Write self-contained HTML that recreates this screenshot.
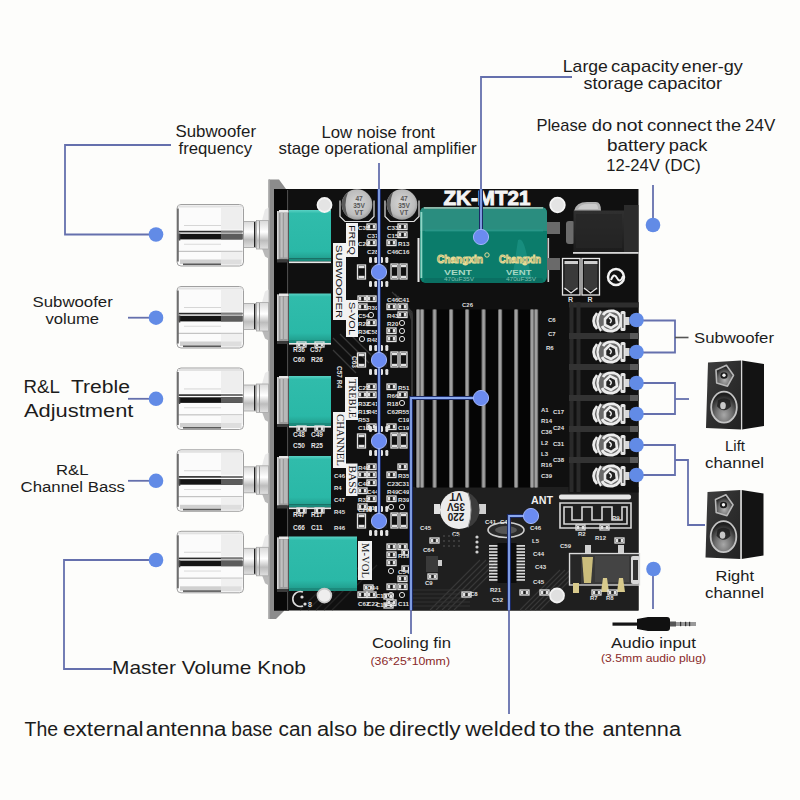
<!DOCTYPE html>
<html><head><meta charset="utf-8"><title>ZK-MT21</title>
<style>html,body{margin:0;padding:0;background:#fdfdfb;width:800px;height:800px;overflow:hidden}svg{display:block}</style>
</head><body><svg width="800" height="800" viewBox="0 0 800 800"><defs>
<linearGradient id="knobTop" x1="0" y1="0" x2="0" y2="1">
 <stop offset="0" stop-color="#e8e8e8"/><stop offset="0.25" stop-color="#ffffff"/><stop offset="1" stop-color="#f4f4f4"/>
</linearGradient>
<linearGradient id="knobBot" x1="0" y1="0" x2="0" y2="1">
 <stop offset="0" stop-color="#ffffff"/><stop offset="0.5" stop-color="#f2f2f2"/><stop offset="1" stop-color="#e6e6e6"/>
</linearGradient>
<linearGradient id="nut" x1="0" y1="0" x2="0" y2="1">
 <stop offset="0" stop-color="#d8d8d8"/><stop offset="0.4" stop-color="#ffffff"/><stop offset="0.7" stop-color="#bdbdbd"/><stop offset="1" stop-color="#e0e0e0"/>
</linearGradient>
<linearGradient id="teal" x1="0" y1="0" x2="0" y2="1">
 <stop offset="0" stop-color="#5ad2c4"/><stop offset="0.07" stop-color="#30bcab"/><stop offset="0.85" stop-color="#2ab8a7"/><stop offset="1" stop-color="#22a090"/>
</linearGradient>
<linearGradient id="gcap" x1="0" y1="0" x2="0" y2="1">
 <stop offset="0" stop-color="#2a9a86"/><stop offset="0.35" stop-color="#1f8a76"/><stop offset="0.6" stop-color="#1d8470"/><stop offset="1" stop-color="#218c78"/>
</linearGradient>
<radialGradient id="scap" cx="0.5" cy="0.45" r="0.6">
 <stop offset="0" stop-color="#d6d6d6"/><stop offset="0.7" stop-color="#bcbcbc"/><stop offset="1" stop-color="#8a8a8a"/>
</radialGradient>
<linearGradient id="spkFront" x1="0" y1="0" x2="1" y2="1">
 <stop offset="0" stop-color="#3e3e3e"/><stop offset="0.5" stop-color="#2e2e2e"/><stop offset="1" stop-color="#222222"/>
</linearGradient>
<radialGradient id="cone" cx="0.5" cy="0.5" r="0.5">
 <stop offset="0" stop-color="#9a9a9a"/><stop offset="0.4" stop-color="#5a5a5a"/><stop offset="0.85" stop-color="#3a3a3a"/><stop offset="1" stop-color="#bbbbbb"/>
</radialGradient>
<radialGradient id="twc" cx="0.5" cy="0.7" r="0.6">
 <stop offset="0" stop-color="#b0b0b0"/><stop offset="0.6" stop-color="#6a6a6a"/><stop offset="1" stop-color="#222"/>
</radialGradient>
<radialGradient id="wfc" cx="0.5" cy="0.75" r="0.65">
 <stop offset="0" stop-color="#a8a8a8"/><stop offset="0.5" stop-color="#6e6e6e"/><stop offset="1" stop-color="#1e1e1e"/>
</radialGradient>
<linearGradient id="jack" x1="0" y1="0" x2="0" y2="1">
 <stop offset="0" stop-color="#303030"/><stop offset="1" stop-color="#1c1c1c"/>
</linearGradient>
</defs>
<rect x="0" y="0" width="800" height="800" fill="#fdfdfb"/>
<polygon points="268.5,179.5 279,179.5 286,189 284,611 276,619 268.5,619" fill="#8c8c8c"/>
<rect x="268.5" y="179.5" width="1.5" height="439.5" fill="#a4a4a4"/>
<rect x="274" y="189" width="364.5" height="421.5" fill="#101010"/>
<rect x="411" y="487" width="227.5" height="123.5" fill="#1f1f1f"/>
<line x1="333" y1="338" x2="362" y2="367" stroke="#383838" stroke-width="1.3"/>
<line x1="340" y1="334" x2="369" y2="363" stroke="#383838" stroke-width="1.3"/>
<line x1="333" y1="350" x2="356" y2="373" stroke="#383838" stroke-width="1.3"/>
<line x1="346" y1="330" x2="372" y2="356" stroke="#383838" stroke-width="1.3"/>
<path d="M392,292 L412,312 L412,480" fill="none" stroke="#363636" stroke-width="1.2"/>
<path d="M395,294 L412,314 L412,480" fill="none" stroke="#363636" stroke-width="1.2"/>
<path d="M398,296 L412,316 L412,480" fill="none" stroke="#363636" stroke-width="1.2"/>
<path d="M401,298 L412,318 L412,480" fill="none" stroke="#363636" stroke-width="1.2"/>
<path d="M404,300 L412,320 L412,480" fill="none" stroke="#363636" stroke-width="1.2"/>
<path d="M407,302 L412,322 L412,480" fill="none" stroke="#363636" stroke-width="1.2"/>
<path d="M300,610 L345,565" fill="none" stroke="#222" stroke-width="1.2"/>
<path d="M430,610 L480,560" fill="none" stroke="#383838" stroke-width="1.1"/>
<path d="M411,590 L470,590" fill="none" stroke="#333" stroke-width="1.1"/>
<path d="M520,610 L560,570" fill="none" stroke="#383838" stroke-width="1.1"/>
<path d="M308,610 L353,565" fill="none" stroke="#222" stroke-width="1.2"/>
<path d="M436,610 L486,560" fill="none" stroke="#383838" stroke-width="1.1"/>
<path d="M411,594 L470,594" fill="none" stroke="#333" stroke-width="1.1"/>
<path d="M525,610 L565,570" fill="none" stroke="#383838" stroke-width="1.1"/>
<path d="M316,610 L361,565" fill="none" stroke="#222" stroke-width="1.2"/>
<path d="M442,610 L492,560" fill="none" stroke="#383838" stroke-width="1.1"/>
<path d="M411,598 L470,598" fill="none" stroke="#333" stroke-width="1.1"/>
<path d="M530,610 L570,570" fill="none" stroke="#383838" stroke-width="1.1"/>
<path d="M324,610 L369,565" fill="none" stroke="#222" stroke-width="1.2"/>
<path d="M448,610 L498,560" fill="none" stroke="#383838" stroke-width="1.1"/>
<path d="M411,602 L470,602" fill="none" stroke="#333" stroke-width="1.1"/>
<path d="M535,610 L575,570" fill="none" stroke="#383838" stroke-width="1.1"/>
<path d="M332,610 L377,565" fill="none" stroke="#222" stroke-width="1.2"/>
<path d="M454,610 L504,560" fill="none" stroke="#383838" stroke-width="1.1"/>
<path d="M411,606 L470,606" fill="none" stroke="#333" stroke-width="1.1"/>
<path d="M540,610 L580,570" fill="none" stroke="#383838" stroke-width="1.1"/>
<rect x="274" y="189" width="15" height="421.5" fill="#080808"/>
<rect x="287" y="190" width="1.2" height="420" fill="#4a4a4a"/>
<rect x="277" y="211" width="11.5" height="48.5" fill="#9a9a9a"/>
<rect x="277" y="211" width="1.6" height="48.5" fill="#d4d4d4"/>
<rect x="280.5" y="213" width="2.2" height="44.5" fill="#c0c0c0"/>
<rect x="284" y="213" width="3.5" height="44.5" fill="#b8b8b8"/>
<rect x="279" y="210" width="9.5" height="2.5" fill="#e8e8e8"/>
<rect x="277" y="259.5" width="11.5" height="3" fill="#3a3a3a"/>
<rect x="289" y="210" width="42" height="48.5" fill="url(#teal)"/>
<rect x="289" y="258.5" width="42" height="3" fill="#1c8a7c"/>
<rect x="289" y="261.5" width="42" height="1.6" fill="#e8e8e8"/>
<rect x="277" y="294.5" width="11.5" height="46.5" fill="#9a9a9a"/>
<rect x="277" y="294.5" width="1.6" height="46.5" fill="#d4d4d4"/>
<rect x="280.5" y="296.5" width="2.2" height="42.5" fill="#c0c0c0"/>
<rect x="284" y="296.5" width="3.5" height="42.5" fill="#b8b8b8"/>
<rect x="279" y="293.5" width="9.5" height="2.5" fill="#e8e8e8"/>
<rect x="277" y="341.0" width="11.5" height="3" fill="#3a3a3a"/>
<rect x="289" y="293.5" width="42" height="46.5" fill="url(#teal)"/>
<rect x="289" y="340" width="42" height="3" fill="#1c8a7c"/>
<rect x="289" y="343" width="42" height="1.6" fill="#e8e8e8"/>
<rect x="277" y="377" width="11.5" height="47" fill="#9a9a9a"/>
<rect x="277" y="377" width="1.6" height="47" fill="#d4d4d4"/>
<rect x="280.5" y="379" width="2.2" height="43" fill="#c0c0c0"/>
<rect x="284" y="379" width="3.5" height="43" fill="#b8b8b8"/>
<rect x="279" y="376" width="9.5" height="2.5" fill="#e8e8e8"/>
<rect x="277" y="424" width="11.5" height="3" fill="#3a3a3a"/>
<rect x="289" y="376" width="42" height="47" fill="url(#teal)"/>
<rect x="289" y="423" width="42" height="3" fill="#1c8a7c"/>
<rect x="289" y="426" width="42" height="1.6" fill="#e8e8e8"/>
<rect x="277" y="457" width="11.5" height="48.5" fill="#9a9a9a"/>
<rect x="277" y="457" width="1.6" height="48.5" fill="#d4d4d4"/>
<rect x="280.5" y="459" width="2.2" height="44.5" fill="#c0c0c0"/>
<rect x="284" y="459" width="3.5" height="44.5" fill="#b8b8b8"/>
<rect x="279" y="456" width="9.5" height="2.5" fill="#e8e8e8"/>
<rect x="277" y="505.5" width="11.5" height="3" fill="#3a3a3a"/>
<rect x="289" y="456" width="42" height="48.5" fill="url(#teal)"/>
<rect x="289" y="504.5" width="42" height="3" fill="#1c8a7c"/>
<rect x="289" y="507.5" width="42" height="1.6" fill="#e8e8e8"/>
<rect x="277" y="537.5" width="11.5" height="51.5" fill="#9a9a9a"/>
<rect x="277" y="537.5" width="1.6" height="51.5" fill="#d4d4d4"/>
<rect x="280.5" y="539.5" width="2.2" height="47.5" fill="#c0c0c0"/>
<rect x="284" y="539.5" width="3.5" height="47.5" fill="#b8b8b8"/>
<rect x="279" y="536.5" width="9.5" height="2.5" fill="#e8e8e8"/>
<rect x="277" y="589.0" width="11.5" height="3" fill="#3a3a3a"/>
<rect x="289" y="536.5" width="68" height="51.5" fill="url(#teal)"/>
<rect x="289" y="588" width="68" height="3" fill="#1c8a7c"/>
<polygon points="262,220.5 265,209.5 268.5,207.5 268.5,220.5" fill="#e9e9e9"/>
<polygon points="262,248.5 265,256.5 268.5,258.5 268.5,248.5" fill="#b8b8b8"/>
<rect x="243.5" y="221.5" width="12.5" height="26" fill="url(#nut)"/>
<rect x="243.5" y="221.5" width="12.5" height="26" fill="none" stroke="#a2a2a2" stroke-width="0.8"/>
<rect x="254" y="222.0" width="1.3" height="25" fill="#222"/>
<rect x="256.5" y="220.5" width="12" height="28.5" fill="url(#nut)"/>
<rect x="256.5" y="220.5" width="12" height="28.5" fill="none" stroke="#a6a6a6" stroke-width="0.8"/>
<rect x="259" y="221.0" width="1" height="27.5" fill="#999"/>
<rect x="177" y="204.5" width="66.5" height="61.5" rx="4" fill="#fbfbfb" stroke="#a0a0a0" stroke-width="1"/>
<rect x="178" y="205.5" width="64.5" height="2" fill="#e2e2e2"/>
<rect x="221" y="207.5" width="21.5" height="22" fill="#eeeeee"/>
<rect x="184" y="225.0" width="37" height="0.9" fill="#d2d2d2"/>
<rect x="178.5" y="230.8" width="64.0" height="1.6" fill="#2a2a2a"/>
<rect x="221" y="230.8" width="21.5" height="1.6" fill="#7a7a7a"/>
<rect x="178.5" y="233.8" width="64.0" height="5.6" fill="#141414"/>
<rect x="221" y="233.8" width="21.5" height="5.6" fill="#5c5c5c"/>
<rect x="184" y="243.8" width="37" height="0.9" fill="#d8d8d8"/>
<rect x="178" y="250.8" width="64.5" height="1.1" fill="#bdbdbd"/>
<rect x="221" y="251.9" width="21.5" height="8.6" fill="#f0f0f0"/>
<rect x="180" y="259.5" width="41" height="4.5" fill="#d0d0d0"/>
<rect x="221" y="259.5" width="20.5" height="5" fill="#dedede"/>
<rect x="183" y="263.5" width="38" height="1.6" fill="#5a5a5a"/>
<rect x="177" y="208.5" width="1.8" height="53" fill="#6e6e6e"/>
<rect x="178.8" y="233.5" width="1.5" height="7" fill="#444"/>
<polygon points="262,302.5 265,291.5 268.5,289.5 268.5,302.5" fill="#e9e9e9"/>
<polygon points="262,330.5 265,338.5 268.5,340.5 268.5,330.5" fill="#b8b8b8"/>
<rect x="243.5" y="303.5" width="12.5" height="26" fill="url(#nut)"/>
<rect x="243.5" y="303.5" width="12.5" height="26" fill="none" stroke="#a2a2a2" stroke-width="0.8"/>
<rect x="254" y="304.0" width="1.3" height="25" fill="#222"/>
<rect x="256.5" y="302.5" width="12" height="28.5" fill="url(#nut)"/>
<rect x="256.5" y="302.5" width="12" height="28.5" fill="none" stroke="#a6a6a6" stroke-width="0.8"/>
<rect x="259" y="303.0" width="1" height="27.5" fill="#999"/>
<rect x="177" y="286.5" width="66.5" height="61.5" rx="4" fill="#fbfbfb" stroke="#a0a0a0" stroke-width="1"/>
<rect x="178" y="287.5" width="64.5" height="2" fill="#e2e2e2"/>
<rect x="221" y="289.5" width="21.5" height="22" fill="#eeeeee"/>
<rect x="184" y="307.0" width="37" height="0.9" fill="#d2d2d2"/>
<rect x="178.5" y="312.8" width="64.0" height="1.6" fill="#2a2a2a"/>
<rect x="221" y="312.8" width="21.5" height="1.6" fill="#7a7a7a"/>
<rect x="178.5" y="315.8" width="64.0" height="5.6" fill="#141414"/>
<rect x="221" y="315.8" width="21.5" height="5.6" fill="#5c5c5c"/>
<rect x="184" y="325.8" width="37" height="0.9" fill="#d8d8d8"/>
<rect x="178" y="332.8" width="64.5" height="1.1" fill="#bdbdbd"/>
<rect x="221" y="333.9" width="21.5" height="8.6" fill="#f0f0f0"/>
<rect x="180" y="341.5" width="41" height="4.5" fill="#d0d0d0"/>
<rect x="221" y="341.5" width="20.5" height="5" fill="#dedede"/>
<rect x="183" y="345.5" width="38" height="1.6" fill="#5a5a5a"/>
<rect x="177" y="290.5" width="1.8" height="53" fill="#6e6e6e"/>
<rect x="178.8" y="315.5" width="1.5" height="7" fill="#444"/>
<polygon points="262,384 265,373 268.5,371 268.5,384" fill="#e9e9e9"/>
<polygon points="262,412 265,420 268.5,422 268.5,412" fill="#b8b8b8"/>
<rect x="243.5" y="385" width="12.5" height="26" fill="url(#nut)"/>
<rect x="243.5" y="385" width="12.5" height="26" fill="none" stroke="#a2a2a2" stroke-width="0.8"/>
<rect x="254" y="385.5" width="1.3" height="25" fill="#222"/>
<rect x="256.5" y="384" width="12" height="28.5" fill="url(#nut)"/>
<rect x="256.5" y="384" width="12" height="28.5" fill="none" stroke="#a6a6a6" stroke-width="0.8"/>
<rect x="259" y="384.5" width="1" height="27.5" fill="#999"/>
<rect x="177" y="368" width="66.5" height="61.5" rx="4" fill="#fbfbfb" stroke="#a0a0a0" stroke-width="1"/>
<rect x="178" y="369" width="64.5" height="2" fill="#e2e2e2"/>
<rect x="221" y="371" width="21.5" height="22" fill="#eeeeee"/>
<rect x="184" y="388.5" width="37" height="0.9" fill="#d2d2d2"/>
<rect x="178.5" y="394.3" width="64.0" height="1.6" fill="#2a2a2a"/>
<rect x="221" y="394.3" width="21.5" height="1.6" fill="#7a7a7a"/>
<rect x="178.5" y="397.3" width="64.0" height="5.6" fill="#141414"/>
<rect x="221" y="397.3" width="21.5" height="5.6" fill="#5c5c5c"/>
<rect x="184" y="407.3" width="37" height="0.9" fill="#d8d8d8"/>
<rect x="178" y="414.3" width="64.5" height="1.1" fill="#bdbdbd"/>
<rect x="221" y="415.4" width="21.5" height="8.6" fill="#f0f0f0"/>
<rect x="180" y="423" width="41" height="4.5" fill="#d0d0d0"/>
<rect x="221" y="423" width="20.5" height="5" fill="#dedede"/>
<rect x="183" y="427" width="38" height="1.6" fill="#5a5a5a"/>
<rect x="177" y="372" width="1.8" height="53" fill="#6e6e6e"/>
<rect x="178.8" y="397" width="1.5" height="7" fill="#444"/>
<polygon points="262,465.8 265,454.8 268.5,452.8 268.5,465.8" fill="#e9e9e9"/>
<polygon points="262,493.8 265,501.8 268.5,503.8 268.5,493.8" fill="#b8b8b8"/>
<rect x="243.5" y="466.8" width="12.5" height="26" fill="url(#nut)"/>
<rect x="243.5" y="466.8" width="12.5" height="26" fill="none" stroke="#a2a2a2" stroke-width="0.8"/>
<rect x="254" y="467.3" width="1.3" height="25" fill="#222"/>
<rect x="256.5" y="465.8" width="12" height="28.5" fill="url(#nut)"/>
<rect x="256.5" y="465.8" width="12" height="28.5" fill="none" stroke="#a6a6a6" stroke-width="0.8"/>
<rect x="259" y="466.3" width="1" height="27.5" fill="#999"/>
<rect x="177" y="449.8" width="66.5" height="61.5" rx="4" fill="#fbfbfb" stroke="#a0a0a0" stroke-width="1"/>
<rect x="178" y="450.8" width="64.5" height="2" fill="#e2e2e2"/>
<rect x="221" y="452.8" width="21.5" height="22" fill="#eeeeee"/>
<rect x="184" y="470.3" width="37" height="0.9" fill="#d2d2d2"/>
<rect x="178.5" y="476.1" width="64.0" height="1.6" fill="#2a2a2a"/>
<rect x="221" y="476.1" width="21.5" height="1.6" fill="#7a7a7a"/>
<rect x="178.5" y="479.1" width="64.0" height="5.6" fill="#141414"/>
<rect x="221" y="479.1" width="21.5" height="5.6" fill="#5c5c5c"/>
<rect x="184" y="489.1" width="37" height="0.9" fill="#d8d8d8"/>
<rect x="178" y="496.1" width="64.5" height="1.1" fill="#bdbdbd"/>
<rect x="221" y="497.2" width="21.5" height="8.6" fill="#f0f0f0"/>
<rect x="180" y="504.8" width="41" height="4.5" fill="#d0d0d0"/>
<rect x="221" y="504.8" width="20.5" height="5" fill="#dedede"/>
<rect x="183" y="508.8" width="38" height="1.6" fill="#5a5a5a"/>
<rect x="177" y="453.8" width="1.8" height="53" fill="#6e6e6e"/>
<rect x="178.8" y="478.8" width="1.5" height="7" fill="#444"/>
<polygon points="262,547.3 265,536.3 268.5,534.3 268.5,547.3" fill="#e9e9e9"/>
<polygon points="262,575.3 265,583.3 268.5,585.3 268.5,575.3" fill="#b8b8b8"/>
<rect x="243.5" y="548.3" width="12.5" height="26" fill="url(#nut)"/>
<rect x="243.5" y="548.3" width="12.5" height="26" fill="none" stroke="#a2a2a2" stroke-width="0.8"/>
<rect x="254" y="548.8" width="1.3" height="25" fill="#222"/>
<rect x="256.5" y="547.3" width="12" height="28.5" fill="url(#nut)"/>
<rect x="256.5" y="547.3" width="12" height="28.5" fill="none" stroke="#a6a6a6" stroke-width="0.8"/>
<rect x="259" y="547.8" width="1" height="27.5" fill="#999"/>
<rect x="177" y="531.3" width="66.5" height="61.5" rx="4" fill="#fbfbfb" stroke="#a0a0a0" stroke-width="1"/>
<rect x="178" y="532.3" width="64.5" height="2" fill="#e2e2e2"/>
<rect x="221" y="534.3" width="21.5" height="22" fill="#eeeeee"/>
<rect x="184" y="551.8" width="37" height="0.9" fill="#d2d2d2"/>
<rect x="178.5" y="557.5999999999999" width="64.0" height="1.6" fill="#2a2a2a"/>
<rect x="221" y="557.5999999999999" width="21.5" height="1.6" fill="#7a7a7a"/>
<rect x="178.5" y="560.5999999999999" width="64.0" height="5.6" fill="#141414"/>
<rect x="221" y="560.5999999999999" width="21.5" height="5.6" fill="#5c5c5c"/>
<rect x="184" y="570.5999999999999" width="37" height="0.9" fill="#d8d8d8"/>
<rect x="178" y="577.5999999999999" width="64.5" height="1.1" fill="#bdbdbd"/>
<rect x="221" y="578.6999999999999" width="21.5" height="8.6" fill="#f0f0f0"/>
<rect x="180" y="586.3" width="41" height="4.5" fill="#d0d0d0"/>
<rect x="221" y="586.3" width="20.5" height="5" fill="#dedede"/>
<rect x="183" y="590.3" width="38" height="1.6" fill="#5a5a5a"/>
<rect x="177" y="535.3" width="1.8" height="53" fill="#6e6e6e"/>
<rect x="178.8" y="560.3" width="1.5" height="7" fill="#444"/>
<circle cx="324.5" cy="205" r="7" fill="#e4e4e4" stroke="#f4f4f4" stroke-width="1.8"/>
<path d="M340,200.5 L340,216.5 L345,221.5 L369,221.5 L374,216.5 L374,200.5" fill="none" stroke="#e0e0e0" stroke-width="1.2"/>
<circle cx="357" cy="204.5" r="15.3" fill="url(#scap)"/>
<path d="M348,192.2 A15.3,15.3 0 0 0 348,216.8 Q343,204.5 348,192.2 Z" fill="#5a5a5a"/>
<text x="359" y="200.5" font-family="Liberation Sans" font-size="6.5" font-weight="bold" fill="#555" text-anchor="middle">47</text>
<text x="359" y="207.5" font-family="Liberation Sans" font-size="6.5" font-weight="bold" fill="#555" text-anchor="middle">35V</text>
<text x="359" y="214.5" font-family="Liberation Sans" font-size="6.5" font-weight="bold" fill="#555" text-anchor="middle">VT</text>
<path d="M385,200.5 L385,216.5 L390,221.5 L414,221.5 L419,216.5 L419,200.5" fill="none" stroke="#e0e0e0" stroke-width="1.2"/>
<circle cx="402" cy="204.5" r="15.3" fill="url(#scap)"/>
<path d="M393,192.2 A15.3,15.3 0 0 0 393,216.8 Q388,204.5 393,192.2 Z" fill="#5a5a5a"/>
<text x="404" y="200.5" font-family="Liberation Sans" font-size="6.5" font-weight="bold" fill="#555" text-anchor="middle">47</text>
<text x="404" y="207.5" font-family="Liberation Sans" font-size="6.5" font-weight="bold" fill="#555" text-anchor="middle">35V</text>
<text x="404" y="214.5" font-family="Liberation Sans" font-size="6.5" font-weight="bold" fill="#555" text-anchor="middle">VT</text>
<text x="443.5" y="205" font-family="Liberation Sans" font-size="19.5" font-weight="bold" fill="#f4f4f4" text-anchor="start" textLength="87" lengthAdjust="spacingAndGlyphs" stroke="#f4f4f4" stroke-width="0.9">ZK-MT21</text>
<rect x="417.5" y="238" width="2" height="44" fill="#e8e8e8"/>
<rect x="547.5" y="238" width="1.6" height="44" fill="#cfcfcf"/>
<rect x="420" y="207" width="127" height="76" rx="6" fill="#0b7c6b"/>
<path d="M420,231 L420,213 Q420,207 426,207 L541,207 Q547,207 547,213 L547,231 Z" fill="#2a8d7f"/>
<rect x="424" y="207" width="119" height="1.8" fill="#8fb9ab"/>
<rect x="425" y="229.5" width="118" height="2" fill="#2a9a8c" opacity="0.7"/>
<rect x="420.5" y="212" width="1.8" height="66" fill="#8fd6c6"/>
<path d="M518,240 Q524,236 528,262 L532,280 L512,280 Z" fill="#1f9a8a" opacity="0.6"/>
<rect x="424" y="278" width="119" height="5" rx="2" fill="#0a6f62"/>
<text x="437" y="263" font-family="Liberation Sans" font-size="11.5" font-weight="bold" fill="#5d5a1a" text-anchor="start" textLength="46" lengthAdjust="spacingAndGlyphs" stroke="#e6dc98" stroke-width="1.1">Changxin</text>
<text x="499" y="263" font-family="Liberation Sans" font-size="11.5" font-weight="bold" fill="#5d5a1a" text-anchor="start" textLength="42" lengthAdjust="spacingAndGlyphs" stroke="#e6dc98" stroke-width="1.1">Changxin</text>
<circle cx="487" cy="255" r="2.2" fill="none" stroke="#e6dc98" stroke-width="1"/>
<text x="444" y="274.5" font-family="Liberation Sans" font-size="8" font-weight="bold" fill="#a8d8c4" text-anchor="start" textLength="28" lengthAdjust="spacingAndGlyphs" >VENT</text>
<text x="506" y="274.5" font-family="Liberation Sans" font-size="8" font-weight="bold" fill="#a8d8c4" text-anchor="start" textLength="25.5" lengthAdjust="spacingAndGlyphs" >VENT</text>
<text x="444" y="280.5" font-family="Liberation Sans" font-size="5" font-weight="normal" fill="#7fbfb0" text-anchor="start" textLength="30" lengthAdjust="spacingAndGlyphs" >470uF35V</text>
<text x="506" y="280.5" font-family="Liberation Sans" font-size="5" font-weight="normal" fill="#7fbfb0" text-anchor="start" textLength="30" lengthAdjust="spacingAndGlyphs" >470uF35V</text>
<circle cx="557.5" cy="205" r="7.3" fill="#e4e4e4" stroke="#f4f4f4" stroke-width="1.8"/>
<rect x="566" y="221" width="9" height="23" rx="3" fill="#6c6c6c"/>
<path d="M574,211 Q576,202 587,202 L596,202 Q601,202 601,211 Z" fill="#b0b0b0"/>
<path d="M578,209 Q580,204 588,204 L595,204 Q598,204 598,209 Z" fill="#cacaca"/>
<rect x="573.5" y="210.5" width="51" height="41.5" fill="url(#jack)"/>
<rect x="624" y="205" width="14.5" height="47" fill="#2c2c2c"/>
<rect x="573" y="252" width="65.5" height="1.8" fill="#d6d6d6"/>
<rect x="576" y="214" width="46" height="34" fill="#262626" opacity="0.7"/>
<rect x="547" y="222" width="13" height="12" fill="#6a6a6a"/>
<rect x="547" y="258" width="13" height="12" fill="#6a6a6a"/>
<rect x="562.5" y="258.5" width="17.5" height="36.5" fill="none" stroke="#e8e8e8" stroke-width="1.3"/>
<rect x="564.5" y="263" width="13.5" height="27" fill="#3a3a3a"/>
<rect x="564.5" y="261" width="13.5" height="3" fill="#cfcfcf"/>
<rect x="582" y="258.5" width="17.5" height="36.5" fill="none" stroke="#e8e8e8" stroke-width="1.3"/>
<rect x="584" y="263" width="13.5" height="27" fill="#3a3a3a"/>
<rect x="584" y="261" width="13.5" height="3" fill="#cfcfcf"/>
<path d="M564.5,288 L571.0,293 L577.5,288" fill="none" stroke="#e8e8e8" stroke-width="1.2"/>
<path d="M584,288 L590.5,293 L597,288" fill="none" stroke="#e8e8e8" stroke-width="1.2"/>
<circle cx="616" cy="277" r="8" fill="none" stroke="#f2f2f2" stroke-width="2.5"/>
<path d="M611,280 q3,-8 6,-2 q3,6 6,-2" fill="none" stroke="#f2f2f2" stroke-width="2"/>
<rect x="415" y="309.5" width="122.5" height="178" fill="#050505"/>
<rect x="416" y="309.5" width="4.2" height="178" fill="#6c6c6c"/>
<rect x="417" y="309.5" width="2.2" height="178" fill="#a0a0a0"/>
<rect x="420" y="309.5" width="4.2" height="178" fill="#6c6c6c"/>
<rect x="421" y="309.5" width="2.2" height="178" fill="#a0a0a0"/>
<rect x="432.5" y="309.5" width="4.2" height="178" fill="#6c6c6c"/>
<rect x="433.5" y="309.5" width="2.2" height="178" fill="#a0a0a0"/>
<rect x="449" y="309.5" width="4.2" height="178" fill="#6c6c6c"/>
<rect x="450" y="309.5" width="2.2" height="178" fill="#a0a0a0"/>
<rect x="465" y="309.5" width="4.2" height="178" fill="#6c6c6c"/>
<rect x="466" y="309.5" width="2.2" height="178" fill="#a0a0a0"/>
<rect x="481.5" y="309.5" width="4.2" height="178" fill="#6c6c6c"/>
<rect x="482.5" y="309.5" width="2.2" height="178" fill="#a0a0a0"/>
<rect x="498" y="309.5" width="4.2" height="178" fill="#6c6c6c"/>
<rect x="499" y="309.5" width="2.2" height="178" fill="#a0a0a0"/>
<rect x="514" y="309.5" width="4.2" height="178" fill="#6c6c6c"/>
<rect x="515" y="309.5" width="2.2" height="178" fill="#a0a0a0"/>
<rect x="530" y="309.5" width="4.2" height="178" fill="#6c6c6c"/>
<rect x="531" y="309.5" width="2.2" height="178" fill="#a0a0a0"/>
<rect x="534" y="309.5" width="4.2" height="178" fill="#6c6c6c"/>
<rect x="535" y="309.5" width="2.2" height="178" fill="#a0a0a0"/>
<text x="462" y="307" font-family="Liberation Sans" font-size="6" font-weight="bold" fill="#dddddd" text-anchor="start" >C26</text>
<rect x="568.5" y="302" width="70" height="190.5" fill="#111"/>
<rect x="569" y="302.5" width="69.5" height="5" fill="#2e2e2e"/>
<rect x="569.5" y="302" width="4" height="190" fill="#2a2a2a"/>
<rect x="576.5" y="302" width="4" height="190" fill="#2a2a2a"/>
<rect x="569" y="333" width="69.5" height="6" fill="#333"/>
<rect x="630" y="333" width="8" height="6" fill="#5a5a5a"/>
<ellipse cx="608" cy="321" rx="15" ry="10.5" fill="#6a6a6a"/>
<path d="M597,313 Q590,321 597,329" fill="none" stroke="#ececec" stroke-width="2.6"/>
<path d="M601,311 Q594,321 601,331" fill="none" stroke="#ececec" stroke-width="2.2"/>
<path d="M603,315 Q606,310 614,311 Q621,313 621,320 Q621,329 613,331 Q605,332 602,326" fill="none" stroke="#ececec" stroke-width="2.8"/>
<path d="M605,319 L610,314 L616,317 L617,324 L611,328 L605,325 Z" fill="#222" stroke="#ececec" stroke-width="2.6"/>
<path d="M609,318 Q613,320 610,323" fill="none" stroke="#ececec" stroke-width="1.5"/>
<rect x="620.5" y="311" width="5" height="20" rx="1.5" fill="#e4e4e4"/>
<rect x="622.3" y="314" width="1.2" height="14" fill="#333"/>
<rect x="625" y="317" width="4.5" height="8" fill="#d8d8d8"/>
<rect x="569" y="364" width="69.5" height="6" fill="#333"/>
<rect x="630" y="364" width="8" height="6" fill="#5a5a5a"/>
<ellipse cx="608" cy="352" rx="15" ry="10.5" fill="#6a6a6a"/>
<path d="M597,344 Q590,352 597,360" fill="none" stroke="#ececec" stroke-width="2.6"/>
<path d="M601,342 Q594,352 601,362" fill="none" stroke="#ececec" stroke-width="2.2"/>
<path d="M603,346 Q606,341 614,342 Q621,344 621,351 Q621,360 613,362 Q605,363 602,357" fill="none" stroke="#ececec" stroke-width="2.8"/>
<path d="M605,350 L610,345 L616,348 L617,355 L611,359 L605,356 Z" fill="#222" stroke="#ececec" stroke-width="2.6"/>
<path d="M609,349 Q613,351 610,354" fill="none" stroke="#ececec" stroke-width="1.5"/>
<rect x="620.5" y="342" width="5" height="20" rx="1.5" fill="#e4e4e4"/>
<rect x="622.3" y="345" width="1.2" height="14" fill="#333"/>
<rect x="625" y="348" width="4.5" height="8" fill="#d8d8d8"/>
<rect x="569" y="395" width="69.5" height="6" fill="#333"/>
<rect x="630" y="395" width="8" height="6" fill="#5a5a5a"/>
<ellipse cx="608" cy="383" rx="15" ry="10.5" fill="#6a6a6a"/>
<path d="M597,375 Q590,383 597,391" fill="none" stroke="#ececec" stroke-width="2.6"/>
<path d="M601,373 Q594,383 601,393" fill="none" stroke="#ececec" stroke-width="2.2"/>
<path d="M603,377 Q606,372 614,373 Q621,375 621,382 Q621,391 613,393 Q605,394 602,388" fill="none" stroke="#ececec" stroke-width="2.8"/>
<path d="M605,381 L610,376 L616,379 L617,386 L611,390 L605,387 Z" fill="#222" stroke="#ececec" stroke-width="2.6"/>
<path d="M609,380 Q613,382 610,385" fill="none" stroke="#ececec" stroke-width="1.5"/>
<rect x="620.5" y="373" width="5" height="20" rx="1.5" fill="#e4e4e4"/>
<rect x="622.3" y="376" width="1.2" height="14" fill="#333"/>
<rect x="625" y="379" width="4.5" height="8" fill="#d8d8d8"/>
<rect x="569" y="426" width="69.5" height="6" fill="#333"/>
<rect x="630" y="426" width="8" height="6" fill="#5a5a5a"/>
<ellipse cx="608" cy="414" rx="15" ry="10.5" fill="#6a6a6a"/>
<path d="M597,406 Q590,414 597,422" fill="none" stroke="#ececec" stroke-width="2.6"/>
<path d="M601,404 Q594,414 601,424" fill="none" stroke="#ececec" stroke-width="2.2"/>
<path d="M603,408 Q606,403 614,404 Q621,406 621,413 Q621,422 613,424 Q605,425 602,419" fill="none" stroke="#ececec" stroke-width="2.8"/>
<path d="M605,412 L610,407 L616,410 L617,417 L611,421 L605,418 Z" fill="#222" stroke="#ececec" stroke-width="2.6"/>
<path d="M609,411 Q613,413 610,416" fill="none" stroke="#ececec" stroke-width="1.5"/>
<rect x="620.5" y="404" width="5" height="20" rx="1.5" fill="#e4e4e4"/>
<rect x="622.3" y="407" width="1.2" height="14" fill="#333"/>
<rect x="625" y="410" width="4.5" height="8" fill="#d8d8d8"/>
<rect x="569" y="457" width="69.5" height="6" fill="#333"/>
<rect x="630" y="457" width="8" height="6" fill="#5a5a5a"/>
<ellipse cx="608" cy="445" rx="15" ry="10.5" fill="#6a6a6a"/>
<path d="M597,437 Q590,445 597,453" fill="none" stroke="#ececec" stroke-width="2.6"/>
<path d="M601,435 Q594,445 601,455" fill="none" stroke="#ececec" stroke-width="2.2"/>
<path d="M603,439 Q606,434 614,435 Q621,437 621,444 Q621,453 613,455 Q605,456 602,450" fill="none" stroke="#ececec" stroke-width="2.8"/>
<path d="M605,443 L610,438 L616,441 L617,448 L611,452 L605,449 Z" fill="#222" stroke="#ececec" stroke-width="2.6"/>
<path d="M609,442 Q613,444 610,447" fill="none" stroke="#ececec" stroke-width="1.5"/>
<rect x="620.5" y="435" width="5" height="20" rx="1.5" fill="#e4e4e4"/>
<rect x="622.3" y="438" width="1.2" height="14" fill="#333"/>
<rect x="625" y="441" width="4.5" height="8" fill="#d8d8d8"/>
<ellipse cx="608" cy="476" rx="15" ry="10.5" fill="#6a6a6a"/>
<path d="M597,468 Q590,476 597,484" fill="none" stroke="#ececec" stroke-width="2.6"/>
<path d="M601,466 Q594,476 601,486" fill="none" stroke="#ececec" stroke-width="2.2"/>
<path d="M603,470 Q606,465 614,466 Q621,468 621,475 Q621,484 613,486 Q605,487 602,481" fill="none" stroke="#ececec" stroke-width="2.8"/>
<path d="M605,474 L610,469 L616,472 L617,479 L611,483 L605,480 Z" fill="#222" stroke="#ececec" stroke-width="2.6"/>
<path d="M609,473 Q613,475 610,478" fill="none" stroke="#ececec" stroke-width="1.5"/>
<rect x="620.5" y="466" width="5" height="20" rx="1.5" fill="#e4e4e4"/>
<rect x="622.3" y="469" width="1.2" height="14" fill="#333"/>
<rect x="625" y="472" width="4.5" height="8" fill="#d8d8d8"/>
<text x="568" y="302" font-family="Liberation Sans" font-size="7" font-weight="bold" fill="#dddddd" text-anchor="start" >R</text>
<text x="587.5" y="302" font-family="Liberation Sans" font-size="7" font-weight="bold" fill="#dddddd" text-anchor="start" >R</text>
<rect x="559" y="494.5" width="72" height="5" rx="2" fill="#e6e6e6"/>
<path d="M560,528 L560,503 L631,503 L631,528 Z" fill="none" stroke="#d6d6d6" stroke-width="1.6"/>
<path d="M564,524 L564,507 L572,507 L572,520 L582,520 L582,507 L592,507 L592,520 L602,520 L602,507 L612,507 L612,520 L622,520 L622,507 L627,507 L627,524 Z" fill="none" stroke="#d6d6d6" stroke-width="1.6"/>
<text x="531" y="504" font-family="Liberation Sans" font-size="10.5" font-weight="bold" fill="#f0f0f0" text-anchor="start" textLength="22" lengthAdjust="spacingAndGlyphs" >ANT</text>
<rect x="585" y="545" width="6" height="10" fill="#d0d0d0"/>
<rect x="618" y="545" width="6" height="10" fill="#d0d0d0"/>
<rect x="569.5" y="553.5" width="70" height="31.5" fill="#383838" stroke="#dcdcdc" stroke-width="1.3"/>
<rect x="571" y="555" width="10" height="29" fill="#262626"/>
<path d="M582,557 L593,557 L591,583 L584,583 Z" fill="#cbbd7c"/>
<rect x="595" y="556" width="34" height="26" fill="#444"/>
<rect x="631" y="556" width="9" height="28" rx="2" fill="#d8d8d8"/>
<rect x="633" y="560" width="5" height="20" fill="#333"/>
<rect x="573" y="583" width="6" height="10" fill="#d8ca8c"/>
<path d="M601,592 L603,578 L607,578 L609,592 Z" fill="#d8ca8c"/>
<path d="M617,592 L619,578 L623,578 L625,592 Z" fill="#d8ca8c"/>
<circle cx="557" cy="595.5" r="7" fill="#e0e0e0" stroke="#f2f2f2" stroke-width="1.8"/>
<rect x="434" y="504" width="6" height="10" fill="#e0e0e0"/>
<rect x="479" y="504" width="7" height="10" fill="#d0d0d0"/>
<circle cx="459" cy="510" r="19" fill="#ececec"/>
<path d="M468,492.5 A19,19 0 0 1 468,527.5 Q474,510 468,492.5 Z" fill="#3c3c3c"/>
<path d="M468,492.5 Q474,510 468,527.5" fill="none" stroke="#9a9a9a" stroke-width="1"/>
<text x="456" y="500" font-family="Liberation Sans" font-size="10" font-weight="bold" fill="#1a1a1a" text-anchor="middle" transform="rotate(180 456 496.5)">VT</text>
<text x="456" y="510" font-family="Liberation Sans" font-size="10" font-weight="bold" fill="#1a1a1a" text-anchor="middle" transform="rotate(180 456 506.5)">35V</text>
<text x="456" y="520" font-family="Liberation Sans" font-size="10" font-weight="bold" fill="#1a1a1a" text-anchor="middle" transform="rotate(180 456 516.5)">220</text>
<ellipse cx="506" cy="530" rx="18" ry="7.5" fill="#2a2a2a" stroke="#cfcfcf" stroke-width="1.6"/>
<ellipse cx="506" cy="530" rx="11" ry="4" fill="#555"/>
<rect x="489" y="545.0" width="36" height="1.7" fill="#d8d8d8"/>
<rect x="489" y="548.1" width="36" height="1.7" fill="#d8d8d8"/>
<rect x="489" y="551.2" width="36" height="1.7" fill="#d8d8d8"/>
<rect x="489" y="554.3" width="36" height="1.7" fill="#d8d8d8"/>
<rect x="489" y="557.4" width="36" height="1.7" fill="#d8d8d8"/>
<rect x="489" y="560.5" width="36" height="1.7" fill="#d8d8d8"/>
<rect x="489" y="563.6" width="36" height="1.7" fill="#d8d8d8"/>
<rect x="489" y="566.7" width="36" height="1.7" fill="#d8d8d8"/>
<rect x="489" y="569.8" width="36" height="1.7" fill="#d8d8d8"/>
<rect x="489" y="572.9" width="36" height="1.7" fill="#d8d8d8"/>
<rect x="489" y="576.0" width="36" height="1.7" fill="#d8d8d8"/>
<rect x="489" y="579.1" width="36" height="1.7" fill="#d8d8d8"/>
<rect x="497.5" y="543" width="19" height="40" fill="#0c0c0c"/>
<rect x="426" y="556" width="12" height="16" fill="#3a3a3a"/>
<rect x="438" y="560" width="4" height="6" fill="#ccc"/>
<circle cx="324.4" cy="595.6" r="7" fill="#eeeeee" stroke="#c8c8c8" stroke-width="1.6"/>
<path d="M303,592 A7.5,7.5 0 1 0 303,606" fill="none" stroke="#dddddd" stroke-width="1.6"/>
<circle cx="302" cy="597" r="1.6" fill="#ddd"/><circle cx="305" cy="604" r="1.6" fill="#ddd"/>
<text x="308" y="607" font-family="Liberation Sans" font-size="7" font-weight="bold" fill="#dddddd" text-anchor="start" >8</text>
<rect x="346" y="223" width="12" height="34" fill="#f2f2f2"/>
<text x="352.0" y="240.0" font-family="Liberation Sans" font-size="9.5" fill="#111" text-anchor="middle" dominant-baseline="central" textLength="30" lengthAdjust="spacingAndGlyphs" transform="rotate(90 352.0 240.0)">FREQ</text>
<rect x="333" y="243" width="13" height="77" fill="#f2f2f2"/>
<text x="339.5" y="281.5" font-family="Liberation Sans" font-size="9.5" fill="#111" text-anchor="middle" dominant-baseline="central" textLength="73" lengthAdjust="spacingAndGlyphs" transform="rotate(90 339.5 281.5)">SUBWOOFER</text>
<rect x="346" y="300" width="12" height="37" fill="#f2f2f2"/>
<text x="352.0" y="318.5" font-family="Liberation Sans" font-size="9.5" fill="#111" text-anchor="middle" dominant-baseline="central" textLength="33" lengthAdjust="spacingAndGlyphs" transform="rotate(90 352.0 318.5)">S-VOL</text>
<rect x="345" y="377" width="13" height="43" fill="#f2f2f2"/>
<text x="351.5" y="398.5" font-family="Liberation Serif" font-size="9.5" fill="#111" text-anchor="middle" dominant-baseline="central" textLength="39" lengthAdjust="spacingAndGlyphs" transform="rotate(90 351.5 398.5)">TREBLE</text>
<rect x="333" y="412" width="13" height="56" fill="#f2f2f2"/>
<text x="339.5" y="440.0" font-family="Liberation Serif" font-size="9.5" fill="#111" text-anchor="middle" dominant-baseline="central" textLength="52" lengthAdjust="spacingAndGlyphs" transform="rotate(90 339.5 440.0)">CHANNEL</text>
<rect x="346" y="463.5" width="11.5" height="32.5" fill="#f2f2f2"/>
<text x="351.75" y="479.75" font-family="Liberation Serif" font-size="9.5" fill="#111" text-anchor="middle" dominant-baseline="central" textLength="28.5" lengthAdjust="spacingAndGlyphs" transform="rotate(90 351.75 479.75)">BASS</text>
<rect x="358" y="541" width="14" height="39" fill="#f2f2f2"/>
<text x="365.0" y="560.5" font-family="Liberation Serif" font-size="9.5" fill="#111" text-anchor="middle" dominant-baseline="central" textLength="35" lengthAdjust="spacingAndGlyphs" transform="rotate(90 365.0 560.5)">M-VOL</text>
<rect x="371" y="265" width="16" height="14" fill="#1c1c1c"/>
<rect x="369" y="257" width="3" height="6" rx="1.2" fill="#e2e2e2"/>
<rect x="369" y="281" width="3" height="6" rx="1.2" fill="#e2e2e2"/>
<rect x="374.3" y="257" width="3" height="6" rx="1.2" fill="#e2e2e2"/>
<rect x="374.3" y="281" width="3" height="6" rx="1.2" fill="#e2e2e2"/>
<rect x="380" y="257" width="3" height="6" rx="1.2" fill="#e2e2e2"/>
<rect x="380" y="281" width="3" height="6" rx="1.2" fill="#e2e2e2"/>
<rect x="385.3" y="257" width="3" height="6" rx="1.2" fill="#e2e2e2"/>
<rect x="385.3" y="281" width="3" height="6" rx="1.2" fill="#e2e2e2"/>
<rect x="357.5" y="265" width="8" height="14" fill="none" stroke="#e2e2e2" stroke-width="1.3"/>
<rect x="358.5" y="266" width="6" height="2.2" fill="#e2e2e2"/><rect x="358.5" y="275.8" width="6" height="2.2" fill="#e2e2e2"/>
<rect x="391" y="264" width="7" height="15" fill="none" stroke="#e2e2e2" stroke-width="1.3"/>
<rect x="392" y="265" width="5" height="2.2" fill="#e2e2e2"/><rect x="392" y="275.8" width="5" height="2.2" fill="#e2e2e2"/>
<rect x="400" y="264" width="7" height="15" fill="none" stroke="#e2e2e2" stroke-width="1.3"/>
<rect x="401" y="265" width="5" height="2.2" fill="#e2e2e2"/><rect x="401" y="275.8" width="5" height="2.2" fill="#e2e2e2"/>
<rect x="371" y="353" width="16" height="14" fill="#1c1c1c"/>
<rect x="369" y="345" width="3" height="6" rx="1.2" fill="#e2e2e2"/>
<rect x="369" y="369" width="3" height="6" rx="1.2" fill="#e2e2e2"/>
<rect x="374.3" y="345" width="3" height="6" rx="1.2" fill="#e2e2e2"/>
<rect x="374.3" y="369" width="3" height="6" rx="1.2" fill="#e2e2e2"/>
<rect x="380" y="345" width="3" height="6" rx="1.2" fill="#e2e2e2"/>
<rect x="380" y="369" width="3" height="6" rx="1.2" fill="#e2e2e2"/>
<rect x="385.3" y="345" width="3" height="6" rx="1.2" fill="#e2e2e2"/>
<rect x="385.3" y="369" width="3" height="6" rx="1.2" fill="#e2e2e2"/>
<rect x="357.5" y="353" width="8" height="14" fill="none" stroke="#e2e2e2" stroke-width="1.3"/>
<rect x="358.5" y="354" width="6" height="2.2" fill="#e2e2e2"/><rect x="358.5" y="363.8" width="6" height="2.2" fill="#e2e2e2"/>
<rect x="391" y="352" width="7" height="15" fill="none" stroke="#e2e2e2" stroke-width="1.3"/>
<rect x="392" y="353" width="5" height="2.2" fill="#e2e2e2"/><rect x="392" y="363.8" width="5" height="2.2" fill="#e2e2e2"/>
<rect x="400" y="352" width="7" height="15" fill="none" stroke="#e2e2e2" stroke-width="1.3"/>
<rect x="401" y="353" width="5" height="2.2" fill="#e2e2e2"/><rect x="401" y="363.8" width="5" height="2.2" fill="#e2e2e2"/>
<rect x="371" y="434" width="16" height="14" fill="#1c1c1c"/>
<rect x="369" y="426" width="3" height="6" rx="1.2" fill="#e2e2e2"/>
<rect x="369" y="450" width="3" height="6" rx="1.2" fill="#e2e2e2"/>
<rect x="374.3" y="426" width="3" height="6" rx="1.2" fill="#e2e2e2"/>
<rect x="374.3" y="450" width="3" height="6" rx="1.2" fill="#e2e2e2"/>
<rect x="380" y="426" width="3" height="6" rx="1.2" fill="#e2e2e2"/>
<rect x="380" y="450" width="3" height="6" rx="1.2" fill="#e2e2e2"/>
<rect x="385.3" y="426" width="3" height="6" rx="1.2" fill="#e2e2e2"/>
<rect x="385.3" y="450" width="3" height="6" rx="1.2" fill="#e2e2e2"/>
<rect x="357.5" y="434" width="8" height="14" fill="none" stroke="#e2e2e2" stroke-width="1.3"/>
<rect x="358.5" y="435" width="6" height="2.2" fill="#e2e2e2"/><rect x="358.5" y="444.8" width="6" height="2.2" fill="#e2e2e2"/>
<rect x="391" y="433" width="7" height="15" fill="none" stroke="#e2e2e2" stroke-width="1.3"/>
<rect x="392" y="434" width="5" height="2.2" fill="#e2e2e2"/><rect x="392" y="444.8" width="5" height="2.2" fill="#e2e2e2"/>
<rect x="400" y="433" width="7" height="15" fill="none" stroke="#e2e2e2" stroke-width="1.3"/>
<rect x="401" y="434" width="5" height="2.2" fill="#e2e2e2"/><rect x="401" y="444.8" width="5" height="2.2" fill="#e2e2e2"/>
<rect x="371" y="514" width="16" height="14" fill="#1c1c1c"/>
<rect x="369" y="506" width="3" height="6" rx="1.2" fill="#e2e2e2"/>
<rect x="369" y="530" width="3" height="6" rx="1.2" fill="#e2e2e2"/>
<rect x="374.3" y="506" width="3" height="6" rx="1.2" fill="#e2e2e2"/>
<rect x="374.3" y="530" width="3" height="6" rx="1.2" fill="#e2e2e2"/>
<rect x="380" y="506" width="3" height="6" rx="1.2" fill="#e2e2e2"/>
<rect x="380" y="530" width="3" height="6" rx="1.2" fill="#e2e2e2"/>
<rect x="385.3" y="506" width="3" height="6" rx="1.2" fill="#e2e2e2"/>
<rect x="385.3" y="530" width="3" height="6" rx="1.2" fill="#e2e2e2"/>
<rect x="357.5" y="514" width="8" height="14" fill="none" stroke="#e2e2e2" stroke-width="1.3"/>
<rect x="358.5" y="515" width="6" height="2.2" fill="#e2e2e2"/><rect x="358.5" y="524.8" width="6" height="2.2" fill="#e2e2e2"/>
<rect x="391" y="513" width="7" height="15" fill="none" stroke="#e2e2e2" stroke-width="1.3"/>
<rect x="392" y="514" width="5" height="2.2" fill="#e2e2e2"/><rect x="392" y="524.8" width="5" height="2.2" fill="#e2e2e2"/>
<rect x="400" y="513" width="7" height="15" fill="none" stroke="#e2e2e2" stroke-width="1.3"/>
<rect x="401" y="514" width="5" height="2.2" fill="#e2e2e2"/><rect x="401" y="524.8" width="5" height="2.2" fill="#e2e2e2"/>
<text x="358" y="230" font-family="Liberation Sans" font-size="6.2" font-weight="bold" fill="#e2e2e2">C35</text>
<rect x="367" y="224" width="9" height="5.5" fill="none" stroke="#e2e2e2" stroke-width="1.3"/>
<rect x="368" y="225" width="2.2" height="3.5" fill="#e2e2e2"/><rect x="372.8" y="225" width="2.2" height="3.5" fill="#e2e2e2"/>
<text x="387" y="230" font-family="Liberation Sans" font-size="6.2" font-weight="bold" fill="#e2e2e2">C33</text>
<rect x="398" y="224" width="9" height="5.5" fill="none" stroke="#e2e2e2" stroke-width="1.3"/>
<rect x="399" y="225" width="2.2" height="3.5" fill="#e2e2e2"/><rect x="403.8" y="225" width="2.2" height="3.5" fill="#e2e2e2"/>
<text x="367" y="238" font-family="Liberation Sans" font-size="6.2" font-weight="bold" fill="#e2e2e2">C37</text>
<text x="387" y="238" font-family="Liberation Sans" font-size="6.2" font-weight="bold" fill="#e2e2e2">C15</text>
<rect x="398" y="232" width="9" height="5.5" fill="none" stroke="#e2e2e2" stroke-width="1.3"/>
<rect x="399" y="233" width="2.2" height="3.5" fill="#e2e2e2"/><rect x="403.8" y="233" width="2.2" height="3.5" fill="#e2e2e2"/>
<text x="358" y="246" font-family="Liberation Sans" font-size="6.2" font-weight="bold" fill="#e2e2e2">C24</text>
<rect x="367" y="240" width="9" height="5.5" fill="none" stroke="#e2e2e2" stroke-width="1.3"/>
<rect x="368" y="241" width="2.2" height="3.5" fill="#e2e2e2"/><rect x="372.8" y="241" width="2.2" height="3.5" fill="#e2e2e2"/>
<rect x="387" y="240" width="9" height="5.5" fill="none" stroke="#e2e2e2" stroke-width="1.3"/>
<rect x="388" y="241" width="2.2" height="3.5" fill="#e2e2e2"/><rect x="392.8" y="241" width="2.2" height="3.5" fill="#e2e2e2"/>
<text x="398" y="246" font-family="Liberation Sans" font-size="6.2" font-weight="bold" fill="#e2e2e2">R13</text>
<text x="367" y="254" font-family="Liberation Sans" font-size="6.2" font-weight="bold" fill="#e2e2e2">C28</text>
<text x="387" y="254" font-family="Liberation Sans" font-size="6.2" font-weight="bold" fill="#e2e2e2">C46</text>
<text x="398" y="254" font-family="Liberation Sans" font-size="6.2" font-weight="bold" fill="#e2e2e2">C16</text>
<rect x="358" y="296" width="9" height="5.5" fill="none" stroke="#e2e2e2" stroke-width="1.3"/>
<rect x="359" y="297" width="2.2" height="3.5" fill="#e2e2e2"/><rect x="363.8" y="297" width="2.2" height="3.5" fill="#e2e2e2"/>
<rect x="367" y="296" width="9" height="5.5" fill="none" stroke="#e2e2e2" stroke-width="1.3"/>
<rect x="368" y="297" width="2.2" height="3.5" fill="#e2e2e2"/><rect x="372.8" y="297" width="2.2" height="3.5" fill="#e2e2e2"/>
<text x="387" y="302" font-family="Liberation Sans" font-size="6.2" font-weight="bold" fill="#e2e2e2">C46</text>
<text x="398" y="302" font-family="Liberation Sans" font-size="6.2" font-weight="bold" fill="#e2e2e2">C41</text>
<rect x="358" y="304" width="9" height="5.5" fill="none" stroke="#e2e2e2" stroke-width="1.3"/>
<rect x="359" y="305" width="2.2" height="3.5" fill="#e2e2e2"/><rect x="363.8" y="305" width="2.2" height="3.5" fill="#e2e2e2"/>
<text x="367" y="310" font-family="Liberation Sans" font-size="6.2" font-weight="bold" fill="#e2e2e2">R39</text>
<rect x="387" y="304" width="9" height="5.5" fill="none" stroke="#e2e2e2" stroke-width="1.3"/>
<rect x="388" y="305" width="2.2" height="3.5" fill="#e2e2e2"/><rect x="392.8" y="305" width="2.2" height="3.5" fill="#e2e2e2"/>
<rect x="398" y="304" width="9" height="5.5" fill="none" stroke="#e2e2e2" stroke-width="1.3"/>
<rect x="399" y="305" width="2.2" height="3.5" fill="#e2e2e2"/><rect x="403.8" y="305" width="2.2" height="3.5" fill="#e2e2e2"/>
<text x="358" y="318" font-family="Liberation Sans" font-size="6.2" font-weight="bold" fill="#e2e2e2">C54</text>
<circle cx="371" cy="315" r="2.6" fill="none" stroke="#e2e2e2" stroke-width="1"/>
<text x="387" y="318" font-family="Liberation Sans" font-size="6.2" font-weight="bold" fill="#e2e2e2">R43</text>
<rect x="398" y="312" width="9" height="5.5" fill="none" stroke="#e2e2e2" stroke-width="1.3"/>
<rect x="399" y="313" width="2.2" height="3.5" fill="#e2e2e2"/><rect x="403.8" y="313" width="2.2" height="3.5" fill="#e2e2e2"/>
<text x="358" y="326" font-family="Liberation Sans" font-size="6.2" font-weight="bold" fill="#e2e2e2">R28</text>
<rect x="367" y="320" width="9" height="5.5" fill="none" stroke="#e2e2e2" stroke-width="1.3"/>
<rect x="368" y="321" width="2.2" height="3.5" fill="#e2e2e2"/><rect x="372.8" y="321" width="2.2" height="3.5" fill="#e2e2e2"/>
<text x="387" y="326" font-family="Liberation Sans" font-size="6.2" font-weight="bold" fill="#e2e2e2">R20</text>
<circle cx="402" cy="323" r="2.6" fill="none" stroke="#e2e2e2" stroke-width="1"/>
<text x="358" y="334" font-family="Liberation Sans" font-size="6.2" font-weight="bold" fill="#e2e2e2">R36</text>
<text x="367" y="334" font-family="Liberation Sans" font-size="6.2" font-weight="bold" fill="#e2e2e2">C58</text>
<rect x="387" y="328" width="9" height="5.5" fill="none" stroke="#e2e2e2" stroke-width="1.3"/>
<rect x="388" y="329" width="2.2" height="3.5" fill="#e2e2e2"/><rect x="392.8" y="329" width="2.2" height="3.5" fill="#e2e2e2"/>
<circle cx="402" cy="331" r="2.6" fill="none" stroke="#e2e2e2" stroke-width="1"/>
<circle cx="362" cy="339" r="2.6" fill="none" stroke="#e2e2e2" stroke-width="1"/>
<text x="367" y="342" font-family="Liberation Sans" font-size="6.2" font-weight="bold" fill="#e2e2e2">R48</text>
<rect x="387" y="336" width="9" height="5.5" fill="none" stroke="#e2e2e2" stroke-width="1.3"/>
<rect x="388" y="337" width="2.2" height="3.5" fill="#e2e2e2"/><rect x="392.8" y="337" width="2.2" height="3.5" fill="#e2e2e2"/>
<circle cx="402" cy="339" r="2.6" fill="none" stroke="#e2e2e2" stroke-width="1"/>
<text x="358" y="390" font-family="Liberation Sans" font-size="6.2" font-weight="bold" fill="#e2e2e2">C27</text>
<rect x="367" y="384" width="9" height="5.5" fill="none" stroke="#e2e2e2" stroke-width="1.3"/>
<rect x="368" y="385" width="2.2" height="3.5" fill="#e2e2e2"/><rect x="372.8" y="385" width="2.2" height="3.5" fill="#e2e2e2"/>
<rect x="387" y="384" width="9" height="5.5" fill="none" stroke="#e2e2e2" stroke-width="1.3"/>
<rect x="388" y="385" width="2.2" height="3.5" fill="#e2e2e2"/><rect x="392.8" y="385" width="2.2" height="3.5" fill="#e2e2e2"/>
<text x="398" y="390" font-family="Liberation Sans" font-size="6.2" font-weight="bold" fill="#e2e2e2">R51</text>
<rect x="358" y="392" width="9" height="5.5" fill="none" stroke="#e2e2e2" stroke-width="1.3"/>
<rect x="359" y="393" width="2.2" height="3.5" fill="#e2e2e2"/><rect x="363.8" y="393" width="2.2" height="3.5" fill="#e2e2e2"/>
<rect x="367" y="392" width="9" height="5.5" fill="none" stroke="#e2e2e2" stroke-width="1.3"/>
<rect x="368" y="393" width="2.2" height="3.5" fill="#e2e2e2"/><rect x="372.8" y="393" width="2.2" height="3.5" fill="#e2e2e2"/>
<text x="387" y="398" font-family="Liberation Sans" font-size="6.2" font-weight="bold" fill="#e2e2e2">R66</text>
<rect x="398" y="392" width="9" height="5.5" fill="none" stroke="#e2e2e2" stroke-width="1.3"/>
<rect x="399" y="393" width="2.2" height="3.5" fill="#e2e2e2"/><rect x="403.8" y="393" width="2.2" height="3.5" fill="#e2e2e2"/>
<text x="358" y="406" font-family="Liberation Sans" font-size="6.2" font-weight="bold" fill="#e2e2e2">R32</text>
<text x="367" y="406" font-family="Liberation Sans" font-size="6.2" font-weight="bold" fill="#e2e2e2">C41</text>
<text x="387" y="406" font-family="Liberation Sans" font-size="6.2" font-weight="bold" fill="#e2e2e2">R18</text>
<circle cx="402" cy="403" r="2.6" fill="none" stroke="#e2e2e2" stroke-width="1"/>
<text x="358" y="414" font-family="Liberation Sans" font-size="6.2" font-weight="bold" fill="#e2e2e2">R15</text>
<text x="367" y="414" font-family="Liberation Sans" font-size="6.2" font-weight="bold" fill="#e2e2e2">R45</text>
<text x="387" y="414" font-family="Liberation Sans" font-size="6.2" font-weight="bold" fill="#e2e2e2">C62</text>
<text x="398" y="414" font-family="Liberation Sans" font-size="6.2" font-weight="bold" fill="#e2e2e2">R55</text>
<text x="358" y="422" font-family="Liberation Sans" font-size="6.2" font-weight="bold" fill="#e2e2e2">R53</text>
<text x="398" y="422" font-family="Liberation Sans" font-size="6.2" font-weight="bold" fill="#e2e2e2">C19</text>
<text x="358" y="430" font-family="Liberation Sans" font-size="6.2" font-weight="bold" fill="#e2e2e2">C10</text>
<rect x="367" y="424" width="9" height="5.5" fill="none" stroke="#e2e2e2" stroke-width="1.3"/>
<rect x="368" y="425" width="2.2" height="3.5" fill="#e2e2e2"/><rect x="372.8" y="425" width="2.2" height="3.5" fill="#e2e2e2"/>
<rect x="387" y="424" width="9" height="5.5" fill="none" stroke="#e2e2e2" stroke-width="1.3"/>
<rect x="388" y="425" width="2.2" height="3.5" fill="#e2e2e2"/><rect x="392.8" y="425" width="2.2" height="3.5" fill="#e2e2e2"/>
<text x="398" y="430" font-family="Liberation Sans" font-size="6.2" font-weight="bold" fill="#e2e2e2">C19</text>
<text x="358" y="470" font-family="Liberation Sans" font-size="6.2" font-weight="bold" fill="#e2e2e2">R49</text>
<rect x="367" y="464" width="9" height="5.5" fill="none" stroke="#e2e2e2" stroke-width="1.3"/>
<rect x="368" y="465" width="2.2" height="3.5" fill="#e2e2e2"/><rect x="372.8" y="465" width="2.2" height="3.5" fill="#e2e2e2"/>
<rect x="398" y="464" width="9" height="5.5" fill="none" stroke="#e2e2e2" stroke-width="1.3"/>
<rect x="399" y="465" width="2.2" height="3.5" fill="#e2e2e2"/><rect x="403.8" y="465" width="2.2" height="3.5" fill="#e2e2e2"/>
<rect x="358" y="472" width="9" height="5.5" fill="none" stroke="#e2e2e2" stroke-width="1.3"/>
<rect x="359" y="473" width="2.2" height="3.5" fill="#e2e2e2"/><rect x="363.8" y="473" width="2.2" height="3.5" fill="#e2e2e2"/>
<rect x="367" y="472" width="9" height="5.5" fill="none" stroke="#e2e2e2" stroke-width="1.3"/>
<rect x="368" y="473" width="2.2" height="3.5" fill="#e2e2e2"/><rect x="372.8" y="473" width="2.2" height="3.5" fill="#e2e2e2"/>
<rect x="387" y="472" width="9" height="5.5" fill="none" stroke="#e2e2e2" stroke-width="1.3"/>
<rect x="388" y="473" width="2.2" height="3.5" fill="#e2e2e2"/><rect x="392.8" y="473" width="2.2" height="3.5" fill="#e2e2e2"/>
<text x="398" y="478" font-family="Liberation Sans" font-size="6.2" font-weight="bold" fill="#e2e2e2">R35</text>
<text x="358" y="486" font-family="Liberation Sans" font-size="6.2" font-weight="bold" fill="#e2e2e2">C40</text>
<rect x="367" y="480" width="9" height="5.5" fill="none" stroke="#e2e2e2" stroke-width="1.3"/>
<rect x="368" y="481" width="2.2" height="3.5" fill="#e2e2e2"/><rect x="372.8" y="481" width="2.2" height="3.5" fill="#e2e2e2"/>
<text x="387" y="486" font-family="Liberation Sans" font-size="6.2" font-weight="bold" fill="#e2e2e2">C23</text>
<text x="398" y="486" font-family="Liberation Sans" font-size="6.2" font-weight="bold" fill="#e2e2e2">C31</text>
<rect x="358" y="488" width="9" height="5.5" fill="none" stroke="#e2e2e2" stroke-width="1.3"/>
<rect x="359" y="489" width="2.2" height="3.5" fill="#e2e2e2"/><rect x="363.8" y="489" width="2.2" height="3.5" fill="#e2e2e2"/>
<text x="367" y="494" font-family="Liberation Sans" font-size="6.2" font-weight="bold" fill="#e2e2e2">C44</text>
<text x="387" y="494" font-family="Liberation Sans" font-size="6.2" font-weight="bold" fill="#e2e2e2">R49</text>
<text x="398" y="494" font-family="Liberation Sans" font-size="6.2" font-weight="bold" fill="#e2e2e2">C49</text>
<text x="358" y="502" font-family="Liberation Sans" font-size="6.2" font-weight="bold" fill="#e2e2e2">R32</text>
<rect x="367" y="496" width="9" height="5.5" fill="none" stroke="#e2e2e2" stroke-width="1.3"/>
<rect x="368" y="497" width="2.2" height="3.5" fill="#e2e2e2"/><rect x="372.8" y="497" width="2.2" height="3.5" fill="#e2e2e2"/>
<rect x="387" y="496" width="9" height="5.5" fill="none" stroke="#e2e2e2" stroke-width="1.3"/>
<rect x="388" y="497" width="2.2" height="3.5" fill="#e2e2e2"/><rect x="392.8" y="497" width="2.2" height="3.5" fill="#e2e2e2"/>
<text x="398" y="502" font-family="Liberation Sans" font-size="6.2" font-weight="bold" fill="#e2e2e2">R39</text>
<rect x="358" y="504" width="9" height="5.5" fill="none" stroke="#e2e2e2" stroke-width="1.3"/>
<rect x="359" y="505" width="2.2" height="3.5" fill="#e2e2e2"/><rect x="363.8" y="505" width="2.2" height="3.5" fill="#e2e2e2"/>
<text x="367" y="510" font-family="Liberation Sans" font-size="6.2" font-weight="bold" fill="#e2e2e2">C16</text>
<circle cx="391" cy="507" r="2.6" fill="none" stroke="#e2e2e2" stroke-width="1"/>
<circle cx="402" cy="507" r="2.6" fill="none" stroke="#e2e2e2" stroke-width="1"/>
<rect x="387" y="544" width="9" height="5.5" fill="none" stroke="#e2e2e2" stroke-width="1.3"/>
<rect x="388" y="545" width="2.2" height="3.5" fill="#e2e2e2"/><rect x="392.8" y="545" width="2.2" height="3.5" fill="#e2e2e2"/>
<rect x="398" y="544" width="9" height="5.5" fill="none" stroke="#e2e2e2" stroke-width="1.3"/>
<rect x="399" y="545" width="2.2" height="3.5" fill="#e2e2e2"/><rect x="403.8" y="545" width="2.2" height="3.5" fill="#e2e2e2"/>
<rect x="387" y="552" width="9" height="5.5" fill="none" stroke="#e2e2e2" stroke-width="1.3"/>
<rect x="388" y="553" width="2.2" height="3.5" fill="#e2e2e2"/><rect x="392.8" y="553" width="2.2" height="3.5" fill="#e2e2e2"/>
<text x="398" y="558" font-family="Liberation Sans" font-size="6.2" font-weight="bold" fill="#e2e2e2">R19</text>
<rect x="387" y="560" width="9" height="5.5" fill="none" stroke="#e2e2e2" stroke-width="1.3"/>
<rect x="388" y="561" width="2.2" height="3.5" fill="#e2e2e2"/><rect x="392.8" y="561" width="2.2" height="3.5" fill="#e2e2e2"/>
<circle cx="391" cy="571" r="2.6" fill="none" stroke="#e2e2e2" stroke-width="1"/>
<text x="398" y="574" font-family="Liberation Sans" font-size="6.2" font-weight="bold" fill="#e2e2e2">C54</text>
<rect x="398" y="576" width="9" height="5.5" fill="none" stroke="#e2e2e2" stroke-width="1.3"/>
<rect x="399" y="577" width="2.2" height="3.5" fill="#e2e2e2"/><rect x="403.8" y="577" width="2.2" height="3.5" fill="#e2e2e2"/>
<text x="367" y="590" font-family="Liberation Sans" font-size="6.2" font-weight="bold" fill="#e2e2e2">C44</text>
<rect x="387" y="584" width="9" height="5.5" fill="none" stroke="#e2e2e2" stroke-width="1.3"/>
<rect x="388" y="585" width="2.2" height="3.5" fill="#e2e2e2"/><rect x="392.8" y="585" width="2.2" height="3.5" fill="#e2e2e2"/>
<rect x="398" y="584" width="9" height="5.5" fill="none" stroke="#e2e2e2" stroke-width="1.3"/>
<rect x="399" y="585" width="2.2" height="3.5" fill="#e2e2e2"/><rect x="403.8" y="585" width="2.2" height="3.5" fill="#e2e2e2"/>
<rect x="358" y="592" width="9" height="5.5" fill="none" stroke="#e2e2e2" stroke-width="1.3"/>
<rect x="359" y="593" width="2.2" height="3.5" fill="#e2e2e2"/><rect x="363.8" y="593" width="2.2" height="3.5" fill="#e2e2e2"/>
<rect x="367" y="592" width="9" height="5.5" fill="none" stroke="#e2e2e2" stroke-width="1.3"/>
<rect x="368" y="593" width="2.2" height="3.5" fill="#e2e2e2"/><rect x="372.8" y="593" width="2.2" height="3.5" fill="#e2e2e2"/>
<circle cx="391" cy="595" r="2.6" fill="none" stroke="#e2e2e2" stroke-width="1"/>
<circle cx="402" cy="595" r="2.6" fill="none" stroke="#e2e2e2" stroke-width="1"/>
<text x="358" y="606" font-family="Liberation Sans" font-size="6.2" font-weight="bold" fill="#e2e2e2">C62</text>
<text x="367" y="606" font-family="Liberation Sans" font-size="6.2" font-weight="bold" fill="#e2e2e2">C22</text>
<rect x="387" y="600" width="9" height="5.5" fill="none" stroke="#e2e2e2" stroke-width="1.3"/>
<rect x="388" y="601" width="2.2" height="3.5" fill="#e2e2e2"/><rect x="392.8" y="601" width="2.2" height="3.5" fill="#e2e2e2"/>
<text x="398" y="606" font-family="Liberation Sans" font-size="6.2" font-weight="bold" fill="#e2e2e2">C11</text>
<text x="293" y="352" font-family="Liberation Sans" font-size="6.5" font-weight="bold" fill="#e2e2e2">R36</text>
<text x="310" y="352" font-family="Liberation Sans" font-size="6.5" font-weight="bold" fill="#e2e2e2">C57</text>
<text x="293" y="362" font-family="Liberation Sans" font-size="6.5" font-weight="bold" fill="#e2e2e2">C60</text>
<text x="311" y="362" font-family="Liberation Sans" font-size="6.5" font-weight="bold" fill="#e2e2e2">R26</text>
<text x="293" y="437" font-family="Liberation Sans" font-size="6.5" font-weight="bold" fill="#e2e2e2">C48</text>
<text x="311" y="437" font-family="Liberation Sans" font-size="6.5" font-weight="bold" fill="#e2e2e2">C49</text>
<text x="293" y="448" font-family="Liberation Sans" font-size="6.5" font-weight="bold" fill="#e2e2e2">C50</text>
<text x="311" y="448" font-family="Liberation Sans" font-size="6.5" font-weight="bold" fill="#e2e2e2">R25</text>
<text x="293" y="517" font-family="Liberation Sans" font-size="6.5" font-weight="bold" fill="#e2e2e2">R47</text>
<text x="311" y="517" font-family="Liberation Sans" font-size="6.5" font-weight="bold" fill="#e2e2e2">R17</text>
<text x="293" y="530" font-family="Liberation Sans" font-size="6.5" font-weight="bold" fill="#e2e2e2">C66</text>
<text x="311" y="530" font-family="Liberation Sans" font-size="6.5" font-weight="bold" fill="#e2e2e2">C11</text>
<rect x="297" y="342" width="9" height="5" fill="none" stroke="#e2e2e2" stroke-width="1.3"/>
<rect x="298" y="343" width="2.2" height="3" fill="#e2e2e2"/><rect x="302.8" y="343" width="2.2" height="3" fill="#e2e2e2"/>
<rect x="315" y="342" width="9" height="5" fill="none" stroke="#e2e2e2" stroke-width="1.3"/>
<rect x="316" y="343" width="2.2" height="3" fill="#e2e2e2"/><rect x="320.8" y="343" width="2.2" height="3" fill="#e2e2e2"/>
<rect x="297" y="426" width="9" height="5" fill="none" stroke="#e2e2e2" stroke-width="1.3"/>
<rect x="298" y="427" width="2.2" height="3" fill="#e2e2e2"/><rect x="302.8" y="427" width="2.2" height="3" fill="#e2e2e2"/>
<rect x="315" y="426" width="9" height="5" fill="none" stroke="#e2e2e2" stroke-width="1.3"/>
<rect x="316" y="427" width="2.2" height="3" fill="#e2e2e2"/><rect x="320.8" y="427" width="2.2" height="3" fill="#e2e2e2"/>
<rect x="297" y="508" width="9" height="5" fill="none" stroke="#e2e2e2" stroke-width="1.3"/>
<rect x="298" y="509" width="2.2" height="3" fill="#e2e2e2"/><rect x="302.8" y="509" width="2.2" height="3" fill="#e2e2e2"/>
<rect x="315" y="508" width="9" height="5" fill="none" stroke="#e2e2e2" stroke-width="1.3"/>
<rect x="316" y="509" width="2.2" height="3" fill="#e2e2e2"/><rect x="320.8" y="509" width="2.2" height="3" fill="#e2e2e2"/>
<text x="334" y="478" font-family="Liberation Sans" font-size="6" font-weight="bold" fill="#e2e2e2">C46</text>
<text x="334" y="490" font-family="Liberation Sans" font-size="6" font-weight="bold" fill="#e2e2e2">R4</text>
<text x="334" y="502" font-family="Liberation Sans" font-size="6" font-weight="bold" fill="#e2e2e2">C47</text>
<text x="334" y="514" font-family="Liberation Sans" font-size="6" font-weight="bold" fill="#e2e2e2">R45</text>
<text x="358" y="512" font-family="Liberation Sans" font-size="6" font-weight="bold" fill="#e2e2e2">C29</text>
<text x="334" y="530" font-family="Liberation Sans" font-size="6" font-weight="bold" fill="#e2e2e2">R46</text>
<text x="548" y="322" font-family="Liberation Sans" font-size="6" font-weight="bold" fill="#e2e2e2">C6</text>
<text x="548" y="336" font-family="Liberation Sans" font-size="6" font-weight="bold" fill="#e2e2e2">C7</text>
<text x="546" y="350" font-family="Liberation Sans" font-size="6" font-weight="bold" fill="#e2e2e2">R6</text>
<text x="541" y="412" font-family="Liberation Sans" font-size="6" font-weight="bold" fill="#e2e2e2">A1</text>
<text x="541" y="423" font-family="Liberation Sans" font-size="6" font-weight="bold" fill="#e2e2e2">R14</text>
<text x="541" y="434" font-family="Liberation Sans" font-size="6" font-weight="bold" fill="#e2e2e2">C36</text>
<text x="541" y="445" font-family="Liberation Sans" font-size="6" font-weight="bold" fill="#e2e2e2">L2</text>
<text x="541" y="456" font-family="Liberation Sans" font-size="6" font-weight="bold" fill="#e2e2e2">L3</text>
<text x="541" y="467" font-family="Liberation Sans" font-size="6" font-weight="bold" fill="#e2e2e2">R16</text>
<text x="541" y="478" font-family="Liberation Sans" font-size="6" font-weight="bold" fill="#e2e2e2">C39</text>
<text x="553" y="414" font-family="Liberation Sans" font-size="6" font-weight="bold" fill="#e2e2e2">C17</text>
<text x="553" y="430" font-family="Liberation Sans" font-size="6" font-weight="bold" fill="#e2e2e2">C24</text>
<text x="553" y="446" font-family="Liberation Sans" font-size="6" font-weight="bold" fill="#e2e2e2">C31</text>
<text x="553" y="462" font-family="Liberation Sans" font-size="6" font-weight="bold" fill="#e2e2e2">C38</text>
<text x="452" y="536" font-family="Liberation Sans" font-size="6" font-weight="bold" fill="#e2e2e2">C5</text>
<text x="420" y="530" font-family="Liberation Sans" font-size="6" font-weight="bold" fill="#e2e2e2">C45</text>
<text x="423" y="552" font-family="Liberation Sans" font-size="6" font-weight="bold" fill="#e2e2e2">C64</text>
<text x="425" y="585" font-family="Liberation Sans" font-size="6" font-weight="bold" fill="#e2e2e2">C9</text>
<text x="470" y="596" font-family="Liberation Sans" font-size="6" font-weight="bold" fill="#e2e2e2">C8</text>
<text x="530" y="530" font-family="Liberation Sans" font-size="6" font-weight="bold" fill="#e2e2e2">C46</text>
<text x="532" y="543" font-family="Liberation Sans" font-size="6" font-weight="bold" fill="#e2e2e2">L5</text>
<text x="533" y="556" font-family="Liberation Sans" font-size="6" font-weight="bold" fill="#e2e2e2">C44</text>
<text x="535" y="569" font-family="Liberation Sans" font-size="6" font-weight="bold" fill="#e2e2e2">C43</text>
<text x="533" y="584" font-family="Liberation Sans" font-size="6" font-weight="bold" fill="#e2e2e2">C45</text>
<text x="485" y="524" font-family="Liberation Sans" font-size="6" font-weight="bold" fill="#e2e2e2">C41</text>
<text x="500" y="524" font-family="Liberation Sans" font-size="6" font-weight="bold" fill="#e2e2e2">C42</text>
<text x="490" y="592" font-family="Liberation Sans" font-size="6" font-weight="bold" fill="#e2e2e2">R21</text>
<text x="492" y="602" font-family="Liberation Sans" font-size="6" font-weight="bold" fill="#e2e2e2">C52</text>
<text x="578" y="536" font-family="Liberation Sans" font-size="6" font-weight="bold" fill="#e2e2e2">R2</text>
<text x="595" y="540" font-family="Liberation Sans" font-size="6" font-weight="bold" fill="#e2e2e2">R12</text>
<text x="612" y="520" font-family="Liberation Sans" font-size="6" font-weight="bold" fill="#e2e2e2">R9</text>
<text x="590" y="600" font-family="Liberation Sans" font-size="6" font-weight="bold" fill="#e2e2e2">R7</text>
<text x="606" y="600" font-family="Liberation Sans" font-size="6" font-weight="bold" fill="#e2e2e2">R8</text>
<text x="376" y="598" font-family="Liberation Sans" font-size="6" font-weight="bold" fill="#e2e2e2">C17</text>
<text x="376" y="607" font-family="Liberation Sans" font-size="6" font-weight="bold" fill="#e2e2e2">C19</text>
<text x="560" y="548" font-family="Liberation Sans" font-size="6" font-weight="bold" fill="#e2e2e2">C59</text>
<rect x="430" y="538" width="9" height="5" fill="none" stroke="#e2e2e2" stroke-width="1.3"/>
<rect x="431" y="539" width="2.2" height="3" fill="#e2e2e2"/><rect x="435.8" y="539" width="2.2" height="3" fill="#e2e2e2"/>
<rect x="428" y="574" width="9" height="5" fill="none" stroke="#e2e2e2" stroke-width="1.3"/>
<rect x="429" y="575" width="2.2" height="3" fill="#e2e2e2"/><rect x="433.8" y="575" width="2.2" height="3" fill="#e2e2e2"/>
<rect x="462" y="592" width="9" height="5" fill="none" stroke="#e2e2e2" stroke-width="1.3"/>
<rect x="463" y="593" width="2.2" height="3" fill="#e2e2e2"/><rect x="467.8" y="593" width="2.2" height="3" fill="#e2e2e2"/>
<rect x="540" y="590" width="9" height="5" fill="none" stroke="#e2e2e2" stroke-width="1.3"/>
<rect x="541" y="591" width="2.2" height="3" fill="#e2e2e2"/><rect x="545.8" y="591" width="2.2" height="3" fill="#e2e2e2"/>
<rect x="520" y="590" width="9" height="5" fill="none" stroke="#e2e2e2" stroke-width="1.3"/>
<rect x="521" y="591" width="2.2" height="3" fill="#e2e2e2"/><rect x="525.8" y="591" width="2.2" height="3" fill="#e2e2e2"/>
<rect x="576" y="525" width="9" height="5" fill="none" stroke="#e2e2e2" stroke-width="1.3"/>
<rect x="577" y="526" width="2.2" height="3" fill="#e2e2e2"/><rect x="581.8" y="526" width="2.2" height="3" fill="#e2e2e2"/>
<rect x="600" y="525" width="9" height="5" fill="none" stroke="#e2e2e2" stroke-width="1.3"/>
<rect x="601" y="526" width="2.2" height="3" fill="#e2e2e2"/><rect x="605.8" y="526" width="2.2" height="3" fill="#e2e2e2"/>
<rect x="615" y="538" width="9" height="5" fill="none" stroke="#e2e2e2" stroke-width="1.3"/>
<rect x="616" y="539" width="2.2" height="3" fill="#e2e2e2"/><rect x="620.8" y="539" width="2.2" height="3" fill="#e2e2e2"/>
<rect x="592" y="590" width="9" height="5" fill="none" stroke="#e2e2e2" stroke-width="1.3"/>
<rect x="593" y="591" width="2.2" height="3" fill="#e2e2e2"/><rect x="597.8" y="591" width="2.2" height="3" fill="#e2e2e2"/>
<rect x="608" y="590" width="9" height="5" fill="none" stroke="#e2e2e2" stroke-width="1.3"/>
<rect x="609" y="591" width="2.2" height="3" fill="#e2e2e2"/><rect x="613.8" y="591" width="2.2" height="3" fill="#e2e2e2"/>
<rect x="384" y="594" width="9" height="5" fill="none" stroke="#e2e2e2" stroke-width="1.3"/>
<rect x="385" y="595" width="2.2" height="3" fill="#e2e2e2"/><rect x="389.8" y="595" width="2.2" height="3" fill="#e2e2e2"/>
<rect x="384" y="603" width="9" height="5" fill="none" stroke="#e2e2e2" stroke-width="1.3"/>
<rect x="385" y="604" width="2.2" height="3" fill="#e2e2e2"/><rect x="389.8" y="604" width="2.2" height="3" fill="#e2e2e2"/>
<rect x="364" y="585" width="9" height="5" fill="none" stroke="#e2e2e2" stroke-width="1.3"/>
<rect x="365" y="586" width="2.2" height="3" fill="#e2e2e2"/><rect x="369.8" y="586" width="2.2" height="3" fill="#e2e2e2"/>
<rect x="402" y="550" width="9" height="5" fill="none" stroke="#e2e2e2" stroke-width="1.3"/>
<rect x="403" y="551" width="2.2" height="3" fill="#e2e2e2"/><rect x="407.8" y="551" width="2.2" height="3" fill="#e2e2e2"/>
<rect x="402" y="566" width="9" height="5" fill="none" stroke="#e2e2e2" stroke-width="1.3"/>
<rect x="403" y="567" width="2.2" height="3" fill="#e2e2e2"/><rect x="407.8" y="567" width="2.2" height="3" fill="#e2e2e2"/>
<text x="337" y="366" font-family="Liberation Sans" font-size="6.5" font-weight="bold" fill="#e2e2e2" transform="rotate(90 337 366)">C57 R4</text>
<text x="352" y="356" font-family="Liberation Sans" font-size="6.5" font-weight="bold" fill="#e2e2e2" transform="rotate(90 352 356)">C63</text>
<circle cx="444" cy="536" r="1" fill="#444"/>
<circle cx="444" cy="541" r="1" fill="#444"/>
<circle cx="444" cy="546" r="1" fill="#444"/>
<circle cx="449" cy="536" r="1" fill="#444"/>
<circle cx="449" cy="541" r="1" fill="#444"/>
<circle cx="449" cy="546" r="1" fill="#444"/>
<circle cx="454" cy="536" r="1" fill="#444"/>
<circle cx="454" cy="541" r="1" fill="#444"/>
<circle cx="454" cy="546" r="1" fill="#444"/>
<circle cx="459" cy="536" r="1" fill="#444"/>
<circle cx="459" cy="541" r="1" fill="#444"/>
<circle cx="459" cy="546" r="1" fill="#444"/>
<circle cx="477" cy="537" r="1.6" fill="#d0d0d0"/>
<circle cx="477" cy="542" r="1.6" fill="#d0d0d0"/>
<circle cx="477" cy="547" r="1.6" fill="#d0d0d0"/>
<circle cx="477" cy="552" r="1.6" fill="#d0d0d0"/>
<polygon points="742,360.5 764,364.0 764,426.0 742,429.5" fill="#131313"/>
<polygon points="708,362.5 741,360.5 741,429.5 706,428.0" fill="url(#spkFront)"/>
<line x1="741.6" y1="360.5" x2="741.6" y2="429.5" stroke="#d8d8d8" stroke-width="1.3"/>
<polygon points="726.4,365.3 733.5,375.3 727.5,386.2 716.7,383.0 716.0,370.1" fill="url(#twc)" stroke="#b8b8b8" stroke-width="1.6" stroke-linejoin="round"/>
<ellipse cx="724" cy="375.5" rx="3.6" ry="3.2" fill="#1a1a1a"/>
<circle cx="724" cy="375.2" r="1.7" fill="#f2f2f2"/>
<ellipse cx="724" cy="407.2" rx="12.8" ry="15.5" fill="url(#wfc)" stroke="#c4c4c4" stroke-width="1.8"/>
<path d="M717,406.2 Q724,414.2 731,406.2 L730,400.2 Q724,396.2 718,400.2 Z" fill="#1e1e1e" opacity="0.85"/>
<ellipse cx="723" cy="405.7" rx="2.8" ry="3.6" fill="#c8c8c8"/>
<polygon points="741.5,490 763.5,493.5 763.5,555.5 741.5,559" fill="#131313"/>
<polygon points="707.5,492 740.5,490 740.5,559 705.5,557.5" fill="url(#spkFront)"/>
<line x1="741.1" y1="490" x2="741.1" y2="559" stroke="#d8d8d8" stroke-width="1.3"/>
<polygon points="725.9,494.8 733.0,504.8 727.0,515.7 716.2,512.5 715.5,499.6" fill="url(#twc)" stroke="#b8b8b8" stroke-width="1.6" stroke-linejoin="round"/>
<ellipse cx="723.5" cy="505.0" rx="3.6" ry="3.2" fill="#1a1a1a"/>
<circle cx="723.5" cy="504.7" r="1.7" fill="#f2f2f2"/>
<ellipse cx="723.5" cy="536.7" rx="12.8" ry="15.5" fill="url(#wfc)" stroke="#c4c4c4" stroke-width="1.8"/>
<path d="M716.5,535.7 Q723.5,543.7 730.5,535.7 L729.5,529.7 Q723.5,525.7 717.5,529.7 Z" fill="#1e1e1e" opacity="0.85"/>
<ellipse cx="722.5" cy="535.2" rx="2.8" ry="3.6" fill="#c8c8c8"/>
<rect x="612.5" y="622.5" width="26" height="3.2" fill="#151515"/>
<path d="M637,619 L648,617 L667,617 Q670,617 670,620 L670,628 Q670,631 667,631 L648,631 L637,629 Z" fill="#111"/>
<rect x="670" y="621.5" width="6" height="5" fill="#555"/>
<rect x="676" y="622" width="20" height="4" fill="#9a9a9a"/>
<rect x="680" y="621.8" width="1.2" height="4.4" fill="#333"/><rect x="685" y="621.8" width="1.2" height="4.4" fill="#333"/><rect x="689" y="621.8" width="1.2" height="4.4" fill="#333"/>
<text x="175.5" y="137" font-family="Liberation Sans" font-size="16.5" font-weight="normal" fill="#1c1c1c" text-anchor="start" textLength="80.5" lengthAdjust="spacingAndGlyphs" >Subwoofer</text>
<text x="178.5" y="153.5" font-family="Liberation Sans" font-size="16.5" font-weight="normal" fill="#1c1c1c" text-anchor="start" textLength="73.5" lengthAdjust="spacingAndGlyphs" >frequency</text>
<text x="321.5" y="137.6" font-family="Liberation Sans" font-size="16.5" font-weight="normal" fill="#1c1c1c" text-anchor="start" textLength="113.5" lengthAdjust="spacingAndGlyphs" >Low noise front</text>
<text x="278.6" y="154.4" font-family="Liberation Sans" font-size="16.5" font-weight="normal" fill="#1c1c1c" text-anchor="start" textLength="198" lengthAdjust="spacingAndGlyphs" >stage operational amplifier</text>
<text x="562.85" y="71.5" font-family="Liberation Sans" font-size="17" font-weight="normal" fill="#1c1c1c" text-anchor="start" textLength="44.95" lengthAdjust="spacingAndGlyphs" >Large</text>
<text x="611.0" y="71.5" font-family="Liberation Sans" font-size="17" font-weight="normal" fill="#1c1c1c" text-anchor="start" textLength="68.0" lengthAdjust="spacingAndGlyphs" >capacity</text>
<text x="681.6" y="71.5" font-family="Liberation Sans" font-size="17" font-weight="normal" fill="#1c1c1c" text-anchor="start" textLength="61.2" lengthAdjust="spacingAndGlyphs" >ener-gy</text>
<text x="583.5" y="89" font-family="Liberation Sans" font-size="17" font-weight="normal" fill="#1c1c1c" text-anchor="start" textLength="59.9" lengthAdjust="spacingAndGlyphs" >storage</text>
<text x="647.85" y="89" font-family="Liberation Sans" font-size="17" font-weight="normal" fill="#1c1c1c" text-anchor="start" textLength="74.3" lengthAdjust="spacingAndGlyphs" >capacitor</text>
<text x="536.4" y="131" font-family="Liberation Sans" font-size="17" font-weight="normal" fill="#1c1c1c" text-anchor="start" textLength="50.5" lengthAdjust="spacingAndGlyphs" >Please</text>
<text x="591.7" y="131" font-family="Liberation Sans" font-size="17" font-weight="normal" fill="#1c1c1c" text-anchor="start" textLength="20.4" lengthAdjust="spacingAndGlyphs" >do</text>
<text x="616.1" y="131" font-family="Liberation Sans" font-size="17" font-weight="normal" fill="#1c1c1c" text-anchor="start" textLength="26.9" lengthAdjust="spacingAndGlyphs" >not</text>
<text x="646.9" y="131" font-family="Liberation Sans" font-size="17" font-weight="normal" fill="#1c1c1c" text-anchor="start" textLength="64.9" lengthAdjust="spacingAndGlyphs" >connect</text>
<text x="715.7" y="131" font-family="Liberation Sans" font-size="17" font-weight="normal" fill="#1c1c1c" text-anchor="start" textLength="25.4" lengthAdjust="spacingAndGlyphs" >the</text>
<text x="745.0" y="131" font-family="Liberation Sans" font-size="17" font-weight="normal" fill="#1c1c1c" text-anchor="start" textLength="30.2" lengthAdjust="spacingAndGlyphs" >24V</text>
<text x="607.0" y="150.5" font-family="Liberation Sans" font-size="17" font-weight="normal" fill="#1c1c1c" text-anchor="start" textLength="57.9" lengthAdjust="spacingAndGlyphs" >battery</text>
<text x="668.8" y="150.5" font-family="Liberation Sans" font-size="17" font-weight="normal" fill="#1c1c1c" text-anchor="start" textLength="38.5" lengthAdjust="spacingAndGlyphs" >pack</text>
<text x="606.3" y="171" font-family="Liberation Sans" font-size="16.5" font-weight="normal" fill="#1c1c1c" text-anchor="start" textLength="53.5" lengthAdjust="spacingAndGlyphs" >12-24V</text>
<text x="664.5" y="171" font-family="Liberation Sans" font-size="16.5" font-weight="normal" fill="#1c1c1c" text-anchor="start" textLength="36.3" lengthAdjust="spacingAndGlyphs" >(DC)</text>
<text x="32.5" y="306.7" font-family="Liberation Sans" font-size="15.5" font-weight="normal" fill="#1c1c1c" text-anchor="start" textLength="80.3" lengthAdjust="spacingAndGlyphs" >Subwoofer</text>
<text x="45.4" y="324" font-family="Liberation Sans" font-size="15.5" font-weight="normal" fill="#1c1c1c" text-anchor="start" textLength="53.6" lengthAdjust="spacingAndGlyphs" >volume</text>
<text x="23.6" y="393" font-family="Liberation Sans" font-size="18" font-weight="normal" fill="#1c1c1c" text-anchor="start" textLength="36.4" lengthAdjust="spacingAndGlyphs" >R&amp;L</text>
<text x="71" y="393" font-family="Liberation Sans" font-size="18" font-weight="normal" fill="#1c1c1c" text-anchor="start" textLength="59" lengthAdjust="spacingAndGlyphs" >Treble</text>
<text x="24" y="416.7" font-family="Liberation Sans" font-size="18" font-weight="normal" fill="#1c1c1c" text-anchor="start" textLength="109.4" lengthAdjust="spacingAndGlyphs" >Adjustment</text>
<text x="56" y="474.7" font-family="Liberation Sans" font-size="15.5" font-weight="normal" fill="#1c1c1c" text-anchor="start" textLength="32.5" lengthAdjust="spacingAndGlyphs" >R&amp;L</text>
<text x="20.6" y="491.8" font-family="Liberation Sans" font-size="15.5" font-weight="normal" fill="#1c1c1c" text-anchor="start" textLength="104.4" lengthAdjust="spacingAndGlyphs" >Channel Bass</text>
<text x="112" y="674" font-family="Liberation Sans" font-size="19" font-weight="normal" fill="#1c1c1c" text-anchor="start" textLength="194" lengthAdjust="spacingAndGlyphs" >Master Volume Knob</text>
<text x="372" y="648" font-family="Liberation Sans" font-size="15.5" font-weight="normal" fill="#1c1c1c" text-anchor="start" textLength="79" lengthAdjust="spacingAndGlyphs" >Cooling fin</text>
<text x="370.5" y="664.5" font-family="Liberation Sans" font-size="11" font-weight="normal" fill="#8a2a2a" text-anchor="start" textLength="79.5" lengthAdjust="spacingAndGlyphs" >(36*25*10mm)</text>
<text x="611" y="647.5" font-family="Liberation Sans" font-size="15.5" font-weight="normal" fill="#1c1c1c" text-anchor="start" textLength="85" lengthAdjust="spacingAndGlyphs" >Audio input</text>
<text x="601" y="662" font-family="Liberation Sans" font-size="11" font-weight="normal" fill="#8a2a2a" text-anchor="start" textLength="105" lengthAdjust="spacingAndGlyphs" >(3.5mm audio plug)</text>
<text x="694" y="343" font-family="Liberation Sans" font-size="15.5" font-weight="normal" fill="#1c1c1c" text-anchor="start" textLength="80" lengthAdjust="spacingAndGlyphs" >Subwoofer</text>
<text x="725" y="451" font-family="Liberation Sans" font-size="15.5" font-weight="normal" fill="#1c1c1c" text-anchor="start" textLength="20" lengthAdjust="spacingAndGlyphs" >Lift</text>
<text x="705" y="468" font-family="Liberation Sans" font-size="15.5" font-weight="normal" fill="#1c1c1c" text-anchor="start" textLength="59" lengthAdjust="spacingAndGlyphs" >channel</text>
<text x="715.5" y="581" font-family="Liberation Sans" font-size="15.5" font-weight="normal" fill="#1c1c1c" text-anchor="start" textLength="38.5" lengthAdjust="spacingAndGlyphs" >Right</text>
<text x="705" y="597.5" font-family="Liberation Sans" font-size="15.5" font-weight="normal" fill="#1c1c1c" text-anchor="start" textLength="59" lengthAdjust="spacingAndGlyphs" >channel</text>
<text x="24.6" y="735.5" font-family="Liberation Sans" font-size="20" font-weight="normal" fill="#1c1c1c" text-anchor="start" textLength="33.5" lengthAdjust="spacingAndGlyphs" >The</text>
<text x="62.9" y="735.5" font-family="Liberation Sans" font-size="20" font-weight="normal" fill="#1c1c1c" text-anchor="start" textLength="80.7" lengthAdjust="spacingAndGlyphs" >external</text>
<text x="145.75" y="735.5" font-family="Liberation Sans" font-size="20" font-weight="normal" fill="#1c1c1c" text-anchor="start" textLength="80.75" lengthAdjust="spacingAndGlyphs" >antenna</text>
<text x="231.3" y="735.5" font-family="Liberation Sans" font-size="20" font-weight="normal" fill="#1c1c1c" text-anchor="start" textLength="41.3" lengthAdjust="spacingAndGlyphs" >base</text>
<text x="278.5" y="735.5" font-family="Liberation Sans" font-size="20" font-weight="normal" fill="#1c1c1c" text-anchor="start" textLength="33.5" lengthAdjust="spacingAndGlyphs" >can</text>
<text x="316.9" y="735.5" font-family="Liberation Sans" font-size="20" font-weight="normal" fill="#1c1c1c" text-anchor="start" textLength="40.2" lengthAdjust="spacingAndGlyphs" >also</text>
<text x="363.0" y="735.5" font-family="Liberation Sans" font-size="20" font-weight="normal" fill="#1c1c1c" text-anchor="start" textLength="22.3" lengthAdjust="spacingAndGlyphs" >be</text>
<text x="388.9" y="735.5" font-family="Liberation Sans" font-size="20" font-weight="normal" fill="#1c1c1c" text-anchor="start" textLength="71.7" lengthAdjust="spacingAndGlyphs" >directly</text>
<text x="465.25" y="735.5" font-family="Liberation Sans" font-size="20" font-weight="normal" fill="#1c1c1c" text-anchor="start" textLength="70.65" lengthAdjust="spacingAndGlyphs" >welded</text>
<text x="539.5" y="735.5" font-family="Liberation Sans" font-size="20" font-weight="normal" fill="#1c1c1c" text-anchor="start" textLength="21.1" lengthAdjust="spacingAndGlyphs" >to</text>
<text x="564.3" y="735.5" font-family="Liberation Sans" font-size="20" font-weight="normal" fill="#1c1c1c" text-anchor="start" textLength="30.1" lengthAdjust="spacingAndGlyphs" >the</text>
<text x="602.5" y="735.5" font-family="Liberation Sans" font-size="20" font-weight="normal" fill="#1c1c1c" text-anchor="start" textLength="78.5" lengthAdjust="spacingAndGlyphs" >antenna</text>
<polyline points="171,145 65,145 65,234.5 156,234.5" fill="none" stroke="#6570ad" stroke-width="1.8" stroke-linejoin="miter"/>
<polyline points="128,317.7 156,317.7" fill="none" stroke="#6570ad" stroke-width="1.8" stroke-linejoin="miter"/>
<polyline points="128,398.8 156,398.8" fill="none" stroke="#6570ad" stroke-width="1.8" stroke-linejoin="miter"/>
<polyline points="128,480.8 156,480.8" fill="none" stroke="#6570ad" stroke-width="1.8" stroke-linejoin="miter"/>
<polyline points="156,560 64,560 64,669 112,669" fill="none" stroke="#6570ad" stroke-width="1.8" stroke-linejoin="miter"/>
<polyline points="379,163 379,189" fill="none" stroke="#6570ad" stroke-width="1.8" stroke-linejoin="miter"/>
<polyline points="379,189 379,521" fill="none" stroke="#1b2a66" stroke-width="4"/>
<polyline points="379,189 379,521" fill="none" stroke="#8aa8ee" stroke-width="1.8"/>
<polyline points="572,77 481,77 481,189" fill="none" stroke="#6570ad" stroke-width="1.8" stroke-linejoin="miter"/>
<polyline points="481,189 481,237" fill="none" stroke="#1b2a66" stroke-width="4"/>
<polyline points="481,189 481,237" fill="none" stroke="#8aa8ee" stroke-width="1.8"/>
<polyline points="653,185 653,225" fill="none" stroke="#6570ad" stroke-width="1.8" stroke-linejoin="miter"/>
<polyline points="636,320.5 675,320.5 675,352.5 636,352.5" fill="none" stroke="#6570ad" stroke-width="1.8" stroke-linejoin="miter"/>
<polyline points="675,337.5 688.5,337.5" fill="none" stroke="#555" stroke-width="1.6" stroke-linejoin="miter"/>
<polyline points="636,383 675,383 675,414 636,414" fill="none" stroke="#6570ad" stroke-width="1.8" stroke-linejoin="miter"/>
<polyline points="675,399 689,399" fill="none" stroke="#6570ad" stroke-width="1.8" stroke-linejoin="miter"/>
<polyline points="636,445 675,445 675,475 636,475" fill="none" stroke="#6570ad" stroke-width="1.8" stroke-linejoin="miter"/>
<polyline points="675,460 688,460 688,525 705,525" fill="none" stroke="#6570ad" stroke-width="1.8" stroke-linejoin="miter"/>
<polyline points="653,569 653,609" fill="none" stroke="#6570ad" stroke-width="1.8" stroke-linejoin="miter"/>
<polyline points="481,398 411,398 411,610" fill="none" stroke="#1b2a66" stroke-width="4"/>
<polyline points="481,398 411,398 411,610" fill="none" stroke="#8aa8ee" stroke-width="1.8"/>
<polyline points="411,610 411,634" fill="none" stroke="#6570ad" stroke-width="1.8" stroke-linejoin="miter"/>
<polyline points="531,516 509,516 509,610" fill="none" stroke="#1b2a66" stroke-width="4"/>
<polyline points="531,516 509,516 509,610" fill="none" stroke="#8aa8ee" stroke-width="1.8"/>
<polyline points="509,610 509,714" fill="none" stroke="#6570ad" stroke-width="1.8" stroke-linejoin="miter"/>
<circle cx="156" cy="234.5" r="7.3" fill="#628be6"/>
<circle cx="156" cy="317.7" r="7.3" fill="#628be6"/>
<circle cx="156" cy="398.8" r="7.3" fill="#628be6"/>
<circle cx="156" cy="480.8" r="7.3" fill="#628be6"/>
<circle cx="156" cy="560" r="7.3" fill="#628be6"/>
<circle cx="379" cy="272" r="7.6" fill="#6b8bf0" stroke="#9fb4fa" stroke-width="1"/>
<circle cx="379" cy="360" r="7.6" fill="#6b8bf0" stroke="#9fb4fa" stroke-width="1"/>
<circle cx="379" cy="441" r="7.6" fill="#6b8bf0" stroke="#9fb4fa" stroke-width="1"/>
<circle cx="379" cy="521" r="7.6" fill="#6b8bf0" stroke="#9fb4fa" stroke-width="1"/>
<circle cx="481" cy="237" r="7.6" fill="#6b8bf0" stroke="#9fb4fa" stroke-width="1"/>
<circle cx="653" cy="225" r="7.3" fill="#628be6"/>
<circle cx="636.5" cy="320" r="7.3" fill="#628be6"/>
<circle cx="636.5" cy="352" r="7.3" fill="#628be6"/>
<circle cx="636.5" cy="383" r="7.3" fill="#628be6"/>
<circle cx="636.5" cy="414" r="7.3" fill="#628be6"/>
<circle cx="636.5" cy="445" r="7.3" fill="#628be6"/>
<circle cx="636.5" cy="475" r="7.3" fill="#628be6"/>
<circle cx="653.5" cy="569" r="7.3" fill="#628be6"/>
<circle cx="481" cy="398" r="7.6" fill="#6b8bf0" stroke="#9fb4fa" stroke-width="1"/>
<circle cx="531" cy="516" r="7.6" fill="#6b8bf0" stroke="#9fb4fa" stroke-width="1"/></svg></body></html>
